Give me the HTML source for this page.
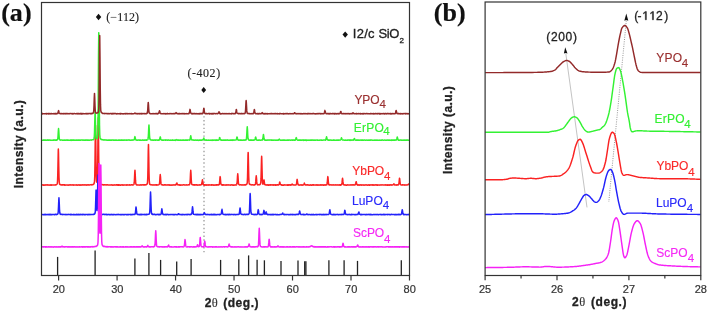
<!DOCTYPE html>
<html><head><meta charset="utf-8"><style>
html,body{margin:0;padding:0;background:#fff;width:708px;height:312px;overflow:hidden}
svg{display:block;will-change:transform;filter:blur(0.3px)}
</style></head><body>
<svg width="708" height="312" viewBox="0 0 708 312">
<rect width="708" height="312" fill="#fff"/>
<g stroke="#222" stroke-width="1.3">
<line x1="57.6" y1="256.9" x2="57.6" y2="275.5"/>
<line x1="95.1" y1="250.6" x2="95.1" y2="275.5"/>
<line x1="134.9" y1="258.6" x2="134.9" y2="275.5"/>
<line x1="148.9" y1="253" x2="148.9" y2="275.5"/>
<line x1="160.6" y1="259.9" x2="160.6" y2="275.5"/>
<line x1="176.7" y1="261.4" x2="176.7" y2="275.5"/>
<line x1="191.1" y1="258.9" x2="191.1" y2="275.5"/>
<line x1="220.6" y1="259.9" x2="220.6" y2="275.5"/>
<line x1="238.8" y1="259.3" x2="238.8" y2="275.5"/>
<line x1="248.6" y1="255.4" x2="248.6" y2="275.5"/>
<line x1="257.1" y1="259.8" x2="257.1" y2="275.5"/>
<line x1="264.4" y1="260.3" x2="264.4" y2="275.5"/>
<line x1="281" y1="260.9" x2="281" y2="275.5"/>
<line x1="298" y1="260.4" x2="298" y2="275.5"/>
<line x1="304.7" y1="261.3" x2="304.7" y2="275.5"/>
<line x1="305.9" y1="261.3" x2="305.9" y2="275.5"/>
<line x1="328.9" y1="260.3" x2="328.9" y2="275.5"/>
<line x1="344.1" y1="260.3" x2="344.1" y2="275.5"/>
<line x1="357.5" y1="260.9" x2="357.5" y2="275.5"/>
<line x1="401.3" y1="260.3" x2="401.3" y2="275.5"/>
</g>
<line x1="204" y1="108.45" x2="204" y2="253" stroke="#888" stroke-width="1.1" stroke-dasharray="1.4 2.45"/>
<path d="M41.5 184.9L41.75 185.01L42 184.94L42.25 185.04L42.5 185.04L42.75 184.82L43 184.8L43.25 185.13L43.5 184.9L43.75 184.89L44 185.19L44.25 184.98L44.5 185.13L44.75 184.98L45 185.05L45.25 184.85L45.5 185.04L45.75 185.14L46 185L46.25 185.09L46.5 185.06L46.75 184.81L47 185.09L47.25 185.02L47.5 184.91L47.75 184.8L48 185.13L48.25 184.97L48.5 185.07L48.75 185.13L49 185.07L49.25 185.15L49.5 184.94L49.75 185.1L50 184.96L50.25 185.15L50.5 185.13L50.75 184.81L51 184.83L51.25 184.86L51.5 185.15L51.75 184.94L52 185.01L52.25 184.88L52.5 184.96L52.75 184.9L53 184.89L53.25 184.97L53.5 184.97L53.75 185.09L54 184.99L54.25 185.08L54.5 185.04L54.75 185.08L55 184.93L55.25 184.7L55.5 184.95L55.75 184.96L56 184.88L56.25 184.68L56.5 184.65L56.75 184.31L57 184.32L57.25 183.66L57.5 181.59L57.75 175.36L58 163.27L58.25 150.91L58.35 149.04L58.5 152.61L58.75 165.95L59 177.12L59.25 182.2L59.5 183.91L59.75 184.4L60 184.27L60.25 184.63L60.5 184.49L60.75 184.82L61 184.71L61.25 184.97L61.5 185.04L61.75 184.87L62 185.08L62.25 184.82L62.5 184.74L62.75 184.96L63 184.74L63.25 184.81L63.5 184.9L63.75 184.99L64 184.81L64.25 184.77L64.5 185.11L64.75 184.89L65 185.15L65.25 185.13L65.5 184.92L65.75 184.96L66 184.98L66.25 185.03L66.5 185.01L66.75 185L67 185.03L67.25 185.16L67.5 184.98L67.75 184.95L68 185.07L68.25 184.88L68.5 184.91L68.75 185.18L69 184.99L69.25 185.01L69.5 184.79L69.75 184.95L70 185.02L70.25 184.8L70.5 185.04L70.75 185.04L71 184.81L71.25 185.04L71.5 184.98L71.75 185.06L72 184.93L72.25 185.07L72.5 185.09L72.75 184.8L73 184.82L73.25 185.06L73.5 185.18L73.75 184.89L74 184.98L74.25 185.03L74.5 184.92L74.75 184.94L75 184.92L75.25 184.95L75.5 185.04L75.75 184.92L76 184.95L76.25 185.11L76.5 184.81L76.75 185.03L77 185.09L77.25 184.92L77.5 184.89L77.75 185.12L78 184.9L78.25 184.87L78.5 184.97L78.75 185.07L79 184.83L79.25 184.92L79.5 184.92L79.75 185.12L80 184.96L80.25 185.13L80.5 184.86L80.75 184.92L81 185.05L81.25 185.14L81.5 184.96L81.75 184.87L82 184.82L82.25 184.99L82.5 184.85L82.75 185.09L83 185.11L83.25 184.84L83.5 184.88L83.75 185.09L84 185.02L84.25 185.09L84.5 184.9L84.75 184.81L85 184.88L85.25 185.08L85.5 184.86L85.75 184.89L86 184.92L86.25 184.92L86.5 184.91L86.75 185.11L87 184.8L87.25 184.74L87.5 185.11L87.75 185.08L88 185.12L88.25 184.89L88.5 185.1L88.75 185.08L89 184.79L89.25 184.99L89.5 185.02L89.75 184.95L90 184.88L90.25 184.78L90.5 184.78L90.75 184.72L91 184.64L91.25 184.83L91.5 184.69L91.75 184.87L92 184.53L92.25 184.84L92.5 184.7L92.75 184.73L93 184.64L93.25 184.54L93.5 184.27L93.75 183.85L94 183.85L94.25 183.08L94.5 181.6L94.75 176.37L95 161.83L95.25 138.66L95.5 125.18L95.75 138.61L96 161.47L96.25 175.74L96.5 181.12L96.75 182.16L97 182.22L97.25 180.65L97.5 174.79L97.75 158.9L98 133.31L98.25 117.87L98.5 133.42L98.75 159.31L99 175.45L99.25 181.46L99.5 182.84L99.75 183.69L100 184.11L100.25 184L100.5 184.24L100.75 184.36L101 184.54L101.25 184.57L101.5 184.64L101.75 184.81L102 184.53L102.25 184.58L102.5 184.64L102.75 184.66L103 184.65L103.25 185.03L103.5 184.99L103.75 184.7L104 184.88L104.25 184.81L104.5 184.82L104.75 184.84L105 184.97L105.25 184.95L105.5 184.86L105.75 184.8L106 184.86L106.25 184.78L106.5 184.96L106.75 185.03L107 184.89L107.25 184.78L107.5 184.82L107.75 184.9L108 184.99L108.25 185.07L108.5 184.91L108.75 185.08L109 185.01L109.25 184.93L109.5 184.91L109.75 184.96L110 185.05L110.25 184.94L110.5 185.05L110.75 184.95L111 184.87L111.25 184.99L111.5 185.05L111.75 184.8L112 184.94L112.25 184.95L112.5 185.14L112.75 185.16L113 184.94L113.25 185.15L113.5 185.1L113.75 184.89L114 184.97L114.25 184.84L114.5 185.11L114.75 185.05L115 185.14L115.25 185.12L115.5 185.07L115.75 185.09L116 185.03L116.25 184.84L116.5 185.04L116.75 184.8L117 184.86L117.25 185.11L117.5 184.82L117.75 184.84L118 184.84L118.25 185.15L118.5 184.87L118.75 184.81L119 185.13L119.25 184.85L119.5 185.13L119.75 185.07L120 185.13L120.25 185.18L120.5 185.03L120.75 185.12L121 184.81L121.25 185.1L121.5 185L121.75 185.08L122 184.84L122.25 185.1L122.5 185.17L122.75 184.82L123 184.93L123.25 185.02L123.5 185.13L123.75 184.89L124 184.87L124.25 184.89L124.5 185.04L124.75 185.1L125 184.95L125.25 184.94L125.5 184.95L125.75 184.93L126 184.96L126.25 184.82L126.5 184.99L126.75 185.18L127 184.95L127.25 185.09L127.5 184.85L127.75 185.06L128 185.09L128.25 185.06L128.5 184.99L128.75 184.98L129 185.04L129.25 185.14L129.5 184.84L129.75 184.81L130 185.07L130.25 185.14L130.5 184.97L130.75 184.94L131 185.05L131.25 184.83L131.5 184.85L131.75 184.81L132 184.96L132.25 184.83L132.5 184.78L132.75 184.94L133 185.01L133.25 184.7L133.5 184.79L133.75 184.52L134 184.22L134.25 182.46L134.5 178.26L134.75 172.56L134.95 170.21L135 170.56L135.25 174.85L135.5 180.18L135.75 183.26L136 184.27L136.25 184.74L136.5 184.59L136.75 185L137 184.83L137.25 184.91L137.5 184.88L137.75 185.04L138 185.04L138.25 184.95L138.5 184.92L138.75 185.03L139 185.08L139.25 184.9L139.5 185.04L139.75 185.13L140 184.94L140.25 184.84L140.5 184.84L140.75 185.04L141 185.02L141.25 185.13L141.5 185.09L141.75 184.84L142 184.82L142.25 184.85L142.5 184.81L142.75 185.02L143 185.07L143.25 185.08L143.5 184.82L143.75 185.06L144 184.83L144.25 184.86L144.5 184.97L144.75 184.7L145 184.68L145.25 184.95L145.5 184.71L145.75 184.7L146 184.73L146.25 184.71L146.5 184.35L146.75 184.34L147 184.17L147.25 183.77L147.5 182.34L147.75 177.9L148 166.71L148.25 150.66L148.45 144.42L148.5 144.69L148.75 156.81L149 172.05L149.25 180.18L149.5 183.35L149.75 184.16L150 184.13L150.25 184.65L150.5 184.53L150.75 184.77L151 184.83L151.25 184.69L151.5 184.87L151.75 184.89L152 184.98L152.25 184.78L152.5 184.99L152.75 185.08L153 184.97L153.25 184.93L153.5 184.77L153.75 184.92L154 184.87L154.25 185.02L154.5 185.01L154.75 184.97L155 184.81L155.25 185L155.5 185L155.75 184.82L156 185.1L156.25 185L156.5 184.79L156.75 185.11L157 184.79L157.25 184.86L157.5 185.01L157.75 184.95L158 184.91L158.25 184.93L158.5 184.82L158.75 184.71L159 184.57L159.25 184.26L159.5 183.57L159.75 181.02L160 176.84L160.25 174.5L160.5 176.77L160.75 180.83L161 183.44L161.25 184.58L161.5 184.52L161.75 184.8L162 184.74L162.25 184.99L162.5 184.84L162.75 184.85L163 184.89L163.25 184.96L163.5 185.06L163.75 184.9L164 185.1L164.25 184.81L164.5 184.88L164.75 184.81L165 184.82L165.25 185.09L165.5 185.07L165.75 184.86L166 184.86L166.25 184.95L166.5 185.08L166.75 185.11L167 185.09L167.25 185.03L167.5 184.85L167.75 184.95L168 184.87L168.25 185L168.5 185.02L168.75 184.87L169 184.89L169.25 185.11L169.5 184.8L169.75 185.11L170 185.15L170.25 185.17L170.5 184.95L170.75 185.01L171 185.03L171.25 185.05L171.5 185.18L171.75 185.07L172 184.91L172.25 185.14L172.5 184.99L172.75 185.03L173 185.08L173.25 184.79L173.5 185.1L173.75 185.05L174 184.98L174.25 184.99L174.5 184.96L174.75 184.85L175 184.98L175.25 184.77L175.5 184.94L175.75 184.94L176 184.66L176.25 184.18L176.5 183.49L176.75 182.96L177 183.16L177.25 184.27L177.5 184.73L177.75 184.7L178 184.88L178.25 184.85L178.5 184.8L178.75 184.99L179 185.15L179.25 184.91L179.5 185.13L179.75 185.06L180 184.84L180.25 185.13L180.5 185.03L180.75 185.16L181 185.07L181.25 185.08L181.5 184.93L181.75 185.11L182 185.16L182.25 185.13L182.5 184.96L182.75 185.09L183 184.98L183.25 184.83L183.5 184.8L183.75 184.82L184 184.86L184.25 184.85L184.5 184.98L184.75 185.06L185 184.99L185.25 184.95L185.5 185.04L185.75 184.89L186 184.96L186.25 185.07L186.5 184.92L186.75 184.83L187 185.11L187.25 185.03L187.5 184.89L187.75 184.88L188 184.93L188.25 184.94L188.5 184.76L188.75 184.65L189 184.68L189.25 184.84L189.5 184.46L189.75 184.22L190 182.8L190.25 179.27L190.5 173.61L190.75 170.37L191 173.61L191.25 179.2L191.5 182.77L191.75 184.1L192 184.6L192.25 184.55L192.5 184.61L192.75 184.82L193 184.84L193.25 184.98L193.5 184.73L193.75 184.89L194 184.9L194.25 184.76L194.5 185.14L194.75 184.84L195 184.8L195.25 184.95L195.5 184.83L195.75 185.02L196 184.91L196.25 184.82L196.5 184.8L196.75 185.07L197 184.89L197.25 185.09L197.5 184.96L197.75 185.15L198 184.9L198.25 184.88L198.5 184.88L198.75 185.1L199 185.02L199.25 184.91L199.5 184.8L199.75 185.03L200 185.14L200.25 184.99L200.5 184.74L200.75 184.73L201 184.73L201.25 184.71L201.5 184.49L201.75 183.92L202 182.74L202.25 180.86L202.45 179.78L202.5 180.15L202.75 181.46L203 183.49L203.25 184.58L203.5 184.95L203.75 184.68L204 184.83L204.25 184.97L204.5 185.12L204.75 184.79L205 184.88L205.25 185.11L205.5 184.82L205.75 184.93L206 184.91L206.25 185.05L206.5 185.15L206.75 184.85L207 185.08L207.25 185.08L207.5 185.12L207.75 185.01L208 185.16L208.25 184.94L208.5 184.96L208.75 184.88L209 185.1L209.25 184.98L209.5 184.9L209.75 184.86L210 185.08L210.25 185.03L210.5 185.08L210.75 184.95L211 184.99L211.25 184.85L211.5 185.08L211.75 184.8L212 184.98L212.25 185.1L212.5 185.06L212.75 184.83L213 184.89L213.25 185.13L213.5 185.05L213.75 185.14L214 185.14L214.25 184.97L214.5 185.15L214.75 185.08L215 184.92L215.25 184.93L215.5 184.81L215.75 184.94L216 185.16L216.25 184.82L216.5 185L216.75 184.81L217 184.79L217.25 185.02L217.5 184.84L217.75 184.76L218 184.78L218.25 184.96L218.5 184.9L218.75 184.63L219 184.61L219.25 184.54L219.5 183.05L219.75 180.51L220 177.25L220.15 176.62L220.25 176.91L220.5 179.93L220.75 182.77L221 184.08L221.25 184.54L221.5 184.64L221.75 184.99L222 184.74L222.25 184.73L222.5 185.12L222.75 184.82L223 185.11L223.25 184.79L223.5 184.95L223.75 184.86L224 185.1L224.25 185.02L224.5 185.03L224.75 185.08L225 185.13L225.25 184.92L225.5 185.02L225.75 184.96L226 184.83L226.25 185.12L226.5 185.02L226.75 185.11L227 184.87L227.25 185L227.5 184.97L227.75 185.08L228 184.82L228.25 184.93L228.5 184.98L228.75 184.82L229 185.01L229.25 185.08L229.5 184.96L229.75 185.05L230 185.03L230.25 184.87L230.5 184.93L230.75 185.18L231 184.92L231.25 184.96L231.5 184.81L231.75 184.87L232 184.84L232.25 185.15L232.5 185.06L232.75 185.12L233 185.16L233.25 185.01L233.5 185.14L233.75 184.97L234 184.92L234.25 185.13L234.5 185.11L234.75 185.12L235 184.92L235.25 185.02L235.5 184.86L235.75 185.07L236 185L236.25 184.7L236.5 184.86L236.75 184.28L237 183.24L237.25 180.78L237.5 176.28L237.75 173.81L238 176.42L238.25 180.51L238.5 183.5L238.75 184.31L239 184.65L239.25 184.72L239.5 184.92L239.75 184.96L240 184.8L240.25 184.74L240.5 184.83L240.75 184.88L241 184.76L241.25 184.79L241.5 185.04L241.75 185.01L242 185.12L242.25 185.12L242.5 185.08L242.75 184.88L243 184.79L243.25 184.85L243.5 184.9L243.75 184.92L244 184.92L244.25 184.84L244.5 185.02L244.75 184.78L245 184.83L245.25 184.97L245.5 184.91L245.75 184.66L246 184.58L246.25 184.73L246.5 184.29L246.75 184.15L247 183.9L247.25 182.52L247.5 177.78L247.75 167.45L248 155.18L248.15 152.41L248.25 153.67L248.5 165.21L248.75 176.45L249 182.13L249.25 183.54L249.5 184.11L249.75 184.25L250 184.55L250.25 184.6L250.5 184.54L250.75 184.78L251 184.63L251.25 184.75L251.5 184.74L251.75 184.98L252 184.83L252.25 184.78L252.5 184.7L252.75 184.85L253 184.93L253.25 184.95L253.5 185.04L253.75 184.99L254 184.76L254.25 184.69L254.5 184.92L254.75 184.89L255 184.7L255.25 184.6L255.5 183.69L255.75 181.42L256 177.92L256.25 175.81L256.5 178.1L256.75 181.65L257 183.81L257.25 184.43L257.5 184.73L257.75 184.91L258 184.89L258.25 184.82L258.5 184.75L258.75 184.78L259 184.62L259.25 184.6L259.5 184.75L259.75 184.81L260 184.53L260.25 184.31L260.5 183.93L260.75 182.77L261 178.9L261.25 169.77L261.5 159.21L261.65 156.26L261.75 157.53L262 167.5L262.25 177.33L262.5 182.38L262.75 183.88L263 184.21L263.25 183.72L263.5 182.24L263.75 180.64L263.95 179.92L264 179.96L264.25 181.36L264.5 183.36L264.75 184.47L265 184.51L265.25 184.85L265.5 184.78L265.75 184.86L266 185.04L266.25 185.08L266.5 184.97L266.75 184.8L267 185.1L267.25 184.81L267.5 184.9L267.75 185.08L268 184.88L268.25 184.86L268.5 185.14L268.75 185.14L269 184.89L269.25 184.92L269.5 184.88L269.75 184.82L270 184.87L270.25 185.17L270.5 184.81L270.75 184.87L271 184.86L271.25 184.81L271.5 184.99L271.75 185.08L272 185.12L272.25 185.03L272.5 185.11L272.75 184.79L273 184.9L273.25 185.17L273.5 184.81L273.75 184.89L274 184.98L274.25 184.89L274.5 185L274.75 184.8L275 184.88L275.25 185.17L275.5 184.84L275.75 185.15L276 184.85L276.25 185.18L276.5 185.05L276.75 185.04L277 184.83L277.25 184.8L277.5 185.07L277.75 184.83L278 184.83L278.25 185.07L278.5 185.07L278.75 184.67L279 184.77L279.25 183.9L279.5 182.72L279.75 181.95L280 182.73L280.25 184.08L280.5 184.5L280.75 184.7L281 184.78L281.25 184.8L281.5 184.9L281.75 185.13L282 184.8L282.25 184.86L282.5 185.16L282.75 185.18L283 185.18L283.25 184.89L283.5 184.93L283.75 185.17L284 184.98L284.25 185.07L284.5 184.92L284.75 184.8L285 184.93L285.25 185.09L285.5 185.11L285.75 185.02L286 184.98L286.25 185.01L286.5 184.97L286.75 185.01L287 185.13L287.25 184.87L287.5 185.03L287.75 185.17L288 185.13L288.25 184.86L288.5 185.18L288.75 185.13L289 184.86L289.25 184.9L289.5 184.87L289.75 184.81L290 185.18L290.25 184.95L290.5 185.13L290.75 184.82L291 184.76L291.25 185.06L291.5 184.9L291.75 184.66L292 184.17L292.15 184.01L292.25 184.15L292.5 184.22L292.75 184.74L293 184.87L293.25 184.8L293.5 185L293.75 184.89L294 184.96L294.25 184.91L294.5 184.88L294.75 184.89L295 184.98L295.25 185.12L295.5 185.08L295.75 185.02L296 184.94L296.25 184.49L296.5 183.98L296.75 181.93L297 179.77L297.15 179.4L297.25 179.73L297.5 181.52L297.75 183.58L298 184.39L298.25 184.97L298.5 184.85L298.75 184.9L299 184.94L299.25 185.09L299.5 185.15L299.75 184.97L300 184.94L300.25 185.02L300.5 184.8L300.75 184.94L301 185.12L301.25 185.09L301.5 184.8L301.75 185.12L302 184.93L302.25 185.17L302.5 184.92L302.75 184.85L303 184.97L303.25 185.08L303.5 184.8L303.75 184.67L304 183.98L304.25 183.22L304.35 183.12L304.5 183.37L304.75 184L305 184.56L305.25 184.92L305.5 185.09L305.75 184.99L306 184.83L306.25 184.86L306.5 184.93L306.75 185.03L307 184.84L307.25 184.82L307.5 184.92L307.75 184.9L308 184.8L308.25 185.01L308.5 185.16L308.75 185.01L309 185.09L309.25 185.13L309.5 185.13L309.75 185.16L310 184.97L310.25 185.07L310.5 184.84L310.75 185.15L311 184.95L311.25 184.99L311.5 185.15L311.75 184.91L312 184.87L312.25 185.13L312.5 185.04L312.75 184.83L313 184.81L313.25 184.94L313.5 184.8L313.75 185.13L314 184.87L314.25 184.91L314.5 184.95L314.75 185L315 184.97L315.25 185.05L315.5 185.06L315.75 184.97L316 184.84L316.25 185.19L316.5 185.07L316.75 184.83L317 184.97L317.25 185.1L317.5 185.19L317.75 184.82L318 184.8L318.25 184.99L318.5 184.96L318.75 185.15L319 185.13L319.25 184.93L319.5 184.96L319.75 185.03L320 185.15L320.25 184.87L320.5 184.95L320.75 184.83L321 185.05L321.25 184.8L321.5 185.16L321.75 185L322 185.02L322.25 184.82L322.5 184.88L322.75 184.97L323 185.13L323.25 185L323.5 184.89L323.75 185.17L324 185.04L324.25 184.98L324.5 184.85L324.75 184.88L325 185.12L325.25 184.8L325.5 184.95L325.75 184.97L326 184.84L326.25 184.97L326.5 184.97L326.75 184.82L327 184.32L327.25 182.69L327.5 179.75L327.75 177.03L327.85 176.63L328 177.34L328.25 180.74L328.5 183.09L328.75 184.5L329 184.89L329.25 184.67L329.5 185.04L329.75 184.86L330 184.81L330.25 184.81L330.5 184.76L330.75 184.95L331 184.92L331.25 185.11L331.5 185.1L331.75 184.8L332 184.94L332.25 184.93L332.5 184.85L332.75 184.88L333 184.89L333.25 185.06L333.5 184.92L333.75 184.83L334 184.87L334.25 184.96L334.5 185.01L334.75 184.89L335 185.07L335.25 184.87L335.5 185.06L335.75 185.03L336 184.86L336.25 185.09L336.5 184.94L336.75 185L337 185.03L337.25 185.04L337.5 184.96L337.75 184.81L338 185.1L338.25 185.12L338.5 184.98L338.75 185.01L339 184.88L339.25 185.13L339.5 185.04L339.75 184.85L340 185.08L340.25 185.14L340.5 184.87L340.75 185.11L341 184.88L341.25 184.7L341.5 184.79L341.75 184.17L342 182.94L342.25 180.4L342.5 178.22L342.55 178.31L342.75 179.48L343 181.94L343.25 183.84L343.5 184.72L343.75 184.78L344 184.86L344.25 184.93L344.5 185.05L344.75 184.82L345 184.79L345.25 185.06L345.5 184.99L345.75 184.89L346 185.13L346.25 185.13L346.5 185L346.75 185.18L347 185.12L347.25 185.08L347.5 184.9L347.75 184.79L348 185.06L348.25 185.08L348.5 184.93L348.75 184.98L349 185.02L349.25 184.89L349.5 185.07L349.75 185.02L350 184.95L350.25 184.83L350.5 185.01L350.75 184.92L351 185.08L351.25 184.86L351.5 184.95L351.75 184.87L352 184.95L352.25 185.02L352.5 184.83L352.75 184.81L353 184.98L353.25 184.86L353.5 184.98L353.75 184.84L354 184.81L354.25 184.97L354.5 185.12L354.75 185.08L355 184.89L355.25 184.71L355.5 184.11L355.75 183.16L356 181.93L356.15 181.88L356.25 181.69L356.5 183.16L356.75 184.12L357 184.67L357.25 184.78L357.5 185.11L357.75 184.82L358 184.99L358.25 184.97L358.5 184.85L358.75 184.87L359 185.18L359.25 185.1L359.5 185.08L359.75 185.15L360 184.83L360.25 185.07L360.5 185.09L360.75 184.88L361 184.98L361.25 185.18L361.5 184.93L361.75 185.1L362 184.86L362.25 185.06L362.5 184.9L362.75 185L363 184.95L363.25 185.15L363.5 185.1L363.75 185L364 185.07L364.25 184.97L364.5 185.12L364.75 184.9L365 185.02L365.25 185.03L365.5 184.95L365.75 184.82L366 184.87L366.25 185.05L366.5 184.88L366.75 185.1L367 185L367.25 185.18L367.5 185.14L367.75 185.09L368 184.95L368.25 184.82L368.5 185.02L368.75 185.1L369 185.17L369.25 184.88L369.5 184.86L369.75 185.19L370 185.1L370.25 184.99L370.5 185.09L370.75 184.86L371 185.02L371.25 185.07L371.5 185.04L371.75 184.86L372 184.85L372.25 185.05L372.5 185.15L372.75 184.85L373 184.8L373.25 184.83L373.5 185.11L373.75 184.96L374 184.98L374.25 185.2L374.5 185.04L374.75 184.91L375 185.08L375.25 184.8L375.5 184.91L375.75 185.08L376 184.87L376.25 184.81L376.5 185.01L376.75 184.93L377 185.19L377.25 184.84L377.5 185.12L377.75 184.96L378 185.12L378.25 184.98L378.5 185.07L378.75 184.93L379 184.89L379.25 184.98L379.5 185.12L379.75 184.94L380 184.89L380.25 184.97L380.5 184.84L380.75 184.93L381 185.03L381.25 185.02L381.5 185.04L381.75 184.92L382 184.81L382.25 184.81L382.5 184.94L382.75 184.88L383 185.03L383.25 184.9L383.5 185.1L383.75 185.04L384 185.06L384.25 185.09L384.5 185.01L384.75 184.97L385 184.92L385.25 184.82L385.5 185.12L385.75 185L386 184.84L386.25 185.17L386.5 185.03L386.75 185.05L387 184.97L387.25 184.85L387.5 185.2L387.75 184.86L388 184.94L388.25 185.2L388.5 184.84L388.75 185L389 184.99L389.25 184.89L389.5 185.16L389.75 184.96L390 184.8L390.25 184.98L390.5 184.79L390.75 185.08L391 185.14L391.25 185.15L391.5 184.81L391.75 185.06L392 184.9L392.25 184.97L392.5 184.89L392.75 184.88L393 184.75L393.25 184.78L393.5 184.22L393.75 184.23L393.85 183.82L394 184.28L394.25 184.34L394.5 184.61L394.75 185.01L395 184.96L395.25 185.07L395.5 184.97L395.75 185.02L396 184.8L396.25 185.04L396.5 184.97L396.75 185.14L397 184.75L397.25 184.77L397.5 185L397.75 185.08L398 184.85L398.25 184.92L398.5 184.72L398.75 184.19L399 182.84L399.25 180.4L399.5 178.18L399.55 178.22L399.75 179.44L400 181.86L400.25 183.81L400.5 184.48L400.75 184.74L401 184.93L401.25 185L401.5 185.11L401.75 184.93L402 184.83L402.25 184.89L402.5 184.79L402.75 184.87L403 185.01L403.25 185.02L403.5 184.88L403.75 184.85L404 184.82L404.25 184.86L404.5 184.99L404.75 184.89L405 185.14L405.25 185.01L405.5 184.92L405.75 184.96L406 184.8L406.25 185.08L406.5 185.08L406.75 184.93L407 185.07L407.25 184.88L407.5 184.84L407.75 184.77L408 184.56L408.25 184.35L408.5 184.07L408.55 184.09L408.75 184L409 184.65L409.25 184.81L409.5 184.89" fill="none" stroke="#fa2222" stroke-width="1.5" stroke-linejoin="round"/>
<path d="M41.5 214.55L41.75 214.52L42 214.43L42.25 214.51L42.5 214.61L42.75 214.63L43 214.71L43.25 214.42L43.5 214.7L43.75 214.67L44 214.63L44.25 214.74L44.5 214.4L44.75 214.66L45 214.71L45.25 214.39L45.5 214.58L45.75 214.72L46 214.46L46.25 214.69L46.5 214.71L46.75 214.52L47 214.4L47.25 214.43L47.5 214.68L47.75 214.51L48 214.47L48.25 214.52L48.5 214.71L48.75 214.44L49 214.35L49.25 214.72L49.5 214.47L49.75 214.5L50 214.73L50.25 214.45L50.5 214.37L50.75 214.69L51 214.44L51.25 214.43L51.5 214.71L51.75 214.43L52 214.7L52.25 214.47L52.5 214.45L52.75 214.42L53 214.55L53.25 214.55L53.5 214.48L53.75 214.53L54 214.44L54.25 214.65L54.5 214.69L54.75 214.61L55 214.63L55.25 214.33L55.5 214.39L55.75 214.36L56 214.33L56.25 214.64L56.5 214.59L56.75 214.57L57 214.39L57.25 214.16L57.5 214.2L57.75 213.87L58 213.67L58.25 211.53L58.5 206.89L58.75 200.67L58.95 197.78L59 198.25L59.25 202.95L59.5 209.28L59.75 212.48L60 213.97L60.25 214.1L60.5 214.2L60.75 214.4L61 214.42L61.25 214.32L61.5 214.29L61.75 214.49L62 214.28L62.25 214.63L62.5 214.43L62.75 214.37L63 214.44L63.25 214.36L63.5 214.44L63.75 214.54L64 214.48L64.25 214.46L64.5 214.44L64.75 214.52L65 214.64L65.25 214.51L65.5 214.64L65.75 214.53L66 214.38L66.25 214.4L66.5 214.68L66.75 214.53L67 214.49L67.25 214.55L67.5 214.68L67.75 214.49L68 214.49L68.25 214.49L68.5 214.35L68.75 214.56L69 214.53L69.25 214.54L69.5 214.52L69.75 214.53L70 214.63L70.25 214.42L70.5 214.74L70.75 214.39L71 214.69L71.25 214.42L71.5 214.66L71.75 214.45L72 214.38L72.25 214.56L72.5 214.68L72.75 214.68L73 214.7L73.25 214.74L73.5 214.37L73.75 214.5L74 214.39L74.25 214.65L74.5 214.53L74.75 214.64L75 214.67L75.25 214.75L75.5 214.62L75.75 214.7L76 214.57L76.25 214.38L76.5 214.71L76.75 214.39L77 214.38L77.25 214.68L77.5 214.46L77.75 214.61L78 214.36L78.25 214.43L78.5 214.64L78.75 214.37L79 214.55L79.25 214.72L79.5 214.43L79.75 214.63L80 214.64L80.25 214.59L80.5 214.65L80.75 214.62L81 214.35L81.25 214.42L81.5 214.55L81.75 214.73L82 214.42L82.25 214.57L82.5 214.39L82.75 214.68L83 214.51L83.25 214.54L83.5 214.6L83.75 214.39L84 214.63L84.25 214.65L84.5 214.68L84.75 214.44L85 214.42L85.25 214.4L85.5 214.69L85.75 214.5L86 214.48L86.25 214.53L86.5 214.6L86.75 214.45L87 214.46L87.25 214.63L87.5 214.63L87.75 214.44L88 214.35L88.25 214.69L88.5 214.6L88.75 214.55L89 214.47L89.25 214.69L89.5 214.47L89.75 214.39L90 214.33L90.25 214.43L90.5 214.53L90.75 214.43L91 214.65L91.25 214.53L91.5 214.44L91.75 214.51L92 214.48L92.25 214.47L92.5 214.41L92.75 214.4L93 214.37L93.25 214.48L93.5 214.19L93.75 214.38L94 214.13L94.25 214.27L94.5 213.85L94.75 213.84L95 213.42L95.25 212.17L95.5 207.79L95.75 199.4L96 190.92L96.1 190.03L96.25 192.16L96.5 200.84L96.75 208.15L97 210.55L97.25 208.35L97.5 198.94L97.75 183.92L98 174.92L98.25 184.11L98.5 199.41L98.75 208.9L99 212.18L99.25 213.36L99.5 213.74L99.75 213.75L100 214.18L100.25 214.09L100.5 214.14L100.75 214.33L101 214.35L101.25 214.35L101.5 214.52L101.75 214.4L102 214.35L102.25 214.25L102.5 214.46L102.75 214.4L103 214.47L103.25 214.41L103.5 214.28L103.75 214.29L104 214.35L104.25 214.33L104.5 214.63L104.75 214.53L105 214.4L105.25 214.59L105.5 214.56L105.75 214.33L106 214.61L106.25 214.41L106.5 214.72L106.75 214.37L107 214.43L107.25 214.42L107.5 214.67L107.75 214.65L108 214.56L108.25 214.39L108.5 214.5L108.75 214.61L109 214.35L109.25 214.7L109.5 214.67L109.75 214.7L110 214.61L110.25 214.58L110.5 214.72L110.75 214.44L111 214.46L111.25 214.38L111.5 214.41L111.75 214.66L112 214.38L112.25 214.64L112.5 214.5L112.75 214.69L113 214.65L113.25 214.62L113.5 214.68L113.75 214.36L114 214.45L114.25 214.49L114.5 214.52L114.75 214.61L115 214.7L115.25 214.65L115.5 214.72L115.75 214.63L116 214.49L116.25 214.55L116.5 214.65L116.75 214.68L117 214.5L117.25 214.49L117.5 214.6L117.75 214.44L118 214.7L118.25 214.35L118.5 214.61L118.75 214.54L119 214.43L119.25 214.58L119.5 214.54L119.75 214.73L120 214.7L120.25 214.58L120.5 214.7L120.75 214.7L121 214.41L121.25 214.68L121.5 214.68L121.75 214.74L122 214.65L122.25 214.51L122.5 214.43L122.75 214.61L123 214.43L123.25 214.65L123.5 214.58L123.75 214.68L124 214.49L124.25 214.47L124.5 214.71L124.75 214.61L125 214.5L125.25 214.57L125.5 214.52L125.75 214.6L126 214.55L126.25 214.46L126.5 214.74L126.75 214.7L127 214.65L127.25 214.46L127.5 214.42L127.75 214.64L128 214.67L128.25 214.61L128.5 214.43L128.75 214.63L129 214.55L129.25 214.49L129.5 214.58L129.75 214.52L130 214.6L130.25 214.64L130.5 214.73L130.75 214.38L131 214.57L131.25 214.71L131.5 214.6L131.75 214.56L132 214.67L132.25 214.34L132.5 214.64L132.75 214.57L133 214.55L133.25 214.43L133.5 214.55L133.75 214.34L134 214.48L134.25 214.35L134.5 214.59L134.75 214.48L135 214.2L135.25 213.78L135.5 212.08L135.75 209.33L136 206.95L136.05 207.15L136.25 208.28L136.5 211.22L136.75 213.05L137 214.2L137.25 214.12L137.5 214.42L137.75 214.43L138 214.28L138.25 214.45L138.5 214.64L138.75 214.55L139 214.43L139.25 214.64L139.5 214.46L139.75 214.68L140 214.48L140.25 214.35L140.5 214.71L140.75 214.35L141 214.43L141.25 214.63L141.5 214.37L141.75 214.54L142 214.67L142.25 214.56L142.5 214.47L142.75 214.63L143 214.66L143.25 214.56L143.5 214.57L143.75 214.45L144 214.48L144.25 214.72L144.5 214.71L144.75 214.32L145 214.39L145.25 214.4L145.5 214.62L145.75 214.38L146 214.37L146.25 214.6L146.5 214.35L146.75 214.67L147 214.45L147.25 214.62L147.5 214.57L147.75 214.31L148 214.51L148.25 214.33L148.5 214.21L148.75 214.08L149 214.24L149.25 214.02L149.5 213.47L149.75 212.11L150 207.23L150.25 198.99L150.5 192.18L150.55 192.04L150.75 195.74L151 204.34L151.25 210.47L151.5 213.04L151.75 213.93L152 214.02L152.25 214.38L152.5 214.12L152.75 214.5L153 214.44L153.25 214.54L153.5 214.38L153.75 214.28L154 214.33L154.25 214.53L154.5 214.29L154.75 214.33L155 214.61L155.25 214.65L155.5 214.65L155.75 214.64L156 214.53L156.25 214.66L156.5 214.59L156.75 214.54L157 214.49L157.25 214.33L157.5 214.35L157.75 214.42L158 214.5L158.25 214.36L158.5 214.7L158.75 214.54L159 214.6L159.25 214.66L159.5 214.39L159.75 214.64L160 214.65L160.25 214.36L160.5 214.26L160.75 214.45L161 214.18L161.25 213.2L161.5 211.12L161.75 209.28L161.85 208.85L162 209.4L162.25 211.57L162.5 213.44L162.75 213.96L163 214.53L163.25 214.24L163.5 214.65L163.75 214.37L164 214.62L164.25 214.63L164.5 214.69L164.75 214.5L165 214.6L165.25 214.44L165.5 214.66L165.75 214.37L166 214.69L166.25 214.57L166.5 214.36L166.75 214.71L167 214.46L167.25 214.37L167.5 214.45L167.75 214.35L168 214.46L168.25 214.63L168.5 214.74L168.75 214.6L169 214.69L169.25 214.67L169.5 214.63L169.75 214.5L170 214.45L170.25 214.41L170.5 214.57L170.75 214.43L171 214.64L171.25 214.47L171.5 214.58L171.75 214.57L172 214.6L172.25 214.41L172.5 214.45L172.75 214.62L173 214.43L173.25 214.62L173.5 214.73L173.75 214.5L174 214.73L174.25 214.59L174.5 214.72L174.75 214.56L175 214.65L175.25 214.62L175.5 214.42L175.75 214.55L176 214.58L176.25 214.53L176.5 214.61L176.75 214.7L177 214.66L177.25 214.66L177.5 214.38L177.75 214.59L178 214.49L178.25 214.44L178.5 213.77L178.75 213.67L179 214.16L179.25 214.21L179.5 214.52L179.75 214.55L180 214.49L180.25 214.51L180.5 214.56L180.75 214.73L181 214.55L181.25 214.66L181.5 214.46L181.75 214.63L182 214.59L182.25 214.64L182.5 214.7L182.75 214.38L183 214.73L183.25 214.59L183.5 214.45L183.75 214.53L184 214.38L184.25 214.44L184.5 214.68L184.75 214.63L185 214.69L185.25 214.41L185.5 214.39L185.75 214.49L186 214.54L186.25 214.63L186.5 214.46L186.75 214.63L187 214.57L187.25 214.45L187.5 214.65L187.75 214.36L188 214.57L188.25 214.41L188.5 214.35L188.75 214.52L189 214.53L189.25 214.56L189.5 214.46L189.75 214.68L190 214.61L190.25 214.35L190.5 214.27L190.75 214.63L191 214.38L191.25 214.2L191.5 214.08L191.75 213.74L192 211.94L192.25 209.14L192.5 206.96L192.55 206.74L192.75 208.07L193 211.2L193.25 213.31L193.5 214.12L193.75 214.37L194 214.32L194.25 214.49L194.5 214.52L194.75 214.52L195 214.49L195.25 214.6L195.5 214.39L195.75 214.6L196 214.71L196.25 214.34L196.5 214.43L196.75 214.72L197 214.36L197.25 214.66L197.5 214.57L197.75 214.36L198 214.59L198.25 214.34L198.5 214.68L198.75 214.46L199 214.71L199.25 214.7L199.5 214.39L199.75 214.5L200 214.4L200.25 214.64L200.5 214.38L200.75 214.37L201 214.38L201.25 214.68L201.5 214.43L201.75 214.46L202 214.51L202.25 214.55L202.5 214.49L202.75 214.7L203 214.44L203.25 214.47L203.5 214.52L203.75 213.96L204 213.29L204.25 212.92L204.35 212.63L204.5 213.03L204.75 213.7L205 214.1L205.25 214.34L205.5 214.33L205.75 214.66L206 214.5L206.25 214.46L206.5 214.4L206.75 214.42L207 214.69L207.25 214.39L207.5 214.56L207.75 214.59L208 214.55L208.25 214.54L208.5 214.5L208.75 214.42L209 214.67L209.25 214.7L209.5 214.57L209.75 214.45L210 214.71L210.25 214.43L210.5 214.41L210.75 214.6L211 214.68L211.25 214.58L211.5 214.39L211.75 214.74L212 214.41L212.25 214.48L212.5 214.74L212.75 214.66L213 214.65L213.25 214.38L213.5 214.69L213.75 214.51L214 214.35L214.25 214.66L214.5 214.72L214.75 214.36L215 214.53L215.25 214.7L215.5 214.48L215.75 214.46L216 214.65L216.25 214.52L216.5 214.74L216.75 214.68L217 214.68L217.25 214.62L217.5 214.42L217.75 214.61L218 214.57L218.25 214.53L218.5 214.56L218.75 214.45L219 214.4L219.25 214.68L219.5 214.46L219.75 214.35L220 214.68L220.25 214.48L220.5 214.52L220.75 214.33L221 214.08L221.25 213.56L221.5 212.3L221.75 210.03L221.95 209.47L222 209.28L222.25 211.08L222.5 212.74L222.75 213.93L223 214.17L223.25 214.28L223.5 214.47L223.75 214.43L224 214.51L224.25 214.39L224.5 214.44L224.75 214.45L225 214.68L225.25 214.36L225.5 214.5L225.75 214.67L226 214.56L226.25 214.44L226.5 214.74L226.75 214.38L227 214.39L227.25 214.35L227.5 214.52L227.75 214.68L228 214.45L228.25 214.46L228.5 214.66L228.75 214.37L229 214.35L229.25 214.61L229.5 214.38L229.75 214.55L230 214.4L230.25 214.58L230.5 214.68L230.75 214.52L231 214.45L231.25 214.59L231.5 214.62L231.75 214.37L232 214.44L232.25 214.49L232.5 214.55L232.75 214.45L233 214.61L233.25 214.44L233.5 214.7L233.75 214.48L234 214.43L234.25 214.37L234.5 214.39L234.75 214.42L235 214.69L235.25 214.5L235.5 214.51L235.75 214.71L236 214.71L236.25 214.63L236.5 214.42L236.75 214.45L237 214.51L237.25 214.41L237.5 214.44L237.75 214.37L238 214.37L238.25 214.56L238.5 214.47L238.75 214.36L239 214.24L239.25 213.83L239.5 212.49L239.75 209.76L240 208.11L240.05 207.89L240.25 208.87L240.5 211.7L240.75 213.48L241 214.06L241.25 214.15L241.5 214.38L241.75 214.42L242 214.41L242.25 214.32L242.5 214.52L242.75 214.39L243 214.6L243.25 214.51L243.5 214.42L243.75 214.64L244 214.49L244.25 214.34L244.5 214.42L244.75 214.33L245 214.47L245.25 214.66L245.5 214.67L245.75 214.55L246 214.35L246.25 214.38L246.5 214.35L246.75 214.41L247 214.51L247.25 214.24L247.5 214.41L247.75 214.36L248 214.41L248.25 214.43L248.5 214.18L248.75 214.14L249 213.75L249.25 212.93L249.5 210.05L249.75 203.19L250 195.44L250.15 193.5L250.25 194.26L250.5 201.59L250.75 209.11L251 212.53L251.25 213.61L251.5 213.98L251.75 214.21L252 214.24L252.25 214.28L252.5 214.31L252.75 214.29L253 214.43L253.25 214.48L253.5 214.29L253.75 214.5L254 214.4L254.25 214.67L254.5 214.66L254.75 214.34L255 214.57L255.25 214.42L255.5 214.33L255.75 214.63L256 214.64L256.25 214.58L256.5 214.51L256.75 214.63L257 214.42L257.25 214.34L257.5 213.9L257.75 212.82L258 210.95L258.25 209.62L258.5 210.69L258.75 212.69L259 213.88L259.25 214.22L259.5 214.54L259.75 214.58L260 214.54L260.25 214.49L260.5 214.56L260.75 214.37L261 214.61L261.25 214.34L261.5 214.65L261.75 214.53L262 214.39L262.25 214.34L262.5 214.48L262.75 214.39L263 214.35L263.25 213.64L263.5 212.8L263.75 211.01L263.95 210.38L264 210.54L264.25 211.7L264.5 213.16L264.75 213.93L265 214.26L265.25 214.06L265.5 213.83L265.75 213.29L266 212.07L266.15 211.84L266.25 212.25L266.5 212.93L266.75 213.87L267 214.33L267.25 214.52L267.5 214.4L267.75 214.6L268 214.31L268.25 214.65L268.5 214.44L268.75 214.57L269 214.45L269.25 214.63L269.5 214.48L269.75 214.58L270 214.46L270.25 214.67L270.5 214.65L270.75 214.42L271 214.64L271.25 214.72L271.5 214.44L271.75 214.42L272 214.71L272.25 214.73L272.5 214.4L272.75 214.65L273 214.72L273.25 214.45L273.5 214.66L273.75 214.46L274 214.66L274.25 214.55L274.5 214.53L274.75 214.4L275 214.61L275.25 214.63L275.5 214.46L275.75 214.36L276 214.38L276.25 214.45L276.5 214.74L276.75 214.64L277 214.7L277.25 214.65L277.5 214.4L277.75 214.5L278 214.73L278.25 214.69L278.5 214.74L278.75 214.67L279 214.63L279.25 214.65L279.5 214.71L279.75 214.51L280 214.35L280.25 214.46L280.5 214.34L280.75 214.44L281 214.56L281.25 214.43L281.5 214.4L281.75 214.28L282 214.18L282.25 213.79L282.5 213.27L282.65 213.28L282.75 212.99L283 213.57L283.25 214L283.5 214.59L283.75 214.55L284 214.58L284.25 214.65L284.5 214.33L284.75 214.7L285 214.47L285.25 214.59L285.5 214.5L285.75 214.64L286 214.46L286.25 214.46L286.5 214.44L286.75 214.64L287 214.53L287.25 214.41L287.5 214.49L287.75 214.57L288 214.5L288.25 214.58L288.5 214.68L288.75 214.6L289 214.67L289.25 214.47L289.5 214.69L289.75 214.72L290 214.56L290.25 214.36L290.5 214.38L290.75 214.65L291 214.69L291.25 214.64L291.5 214.55L291.75 214.56L292 214.39L292.25 214.59L292.5 214.75L292.75 214.43L293 214.59L293.25 214.69L293.5 214.61L293.75 214.48L294 214.44L294.25 214.64L294.5 214.71L294.75 214.69L295 214.5L295.25 214.64L295.5 214.66L295.75 214.49L296 214.64L296.25 214.49L296.5 214.41L296.75 214.33L297 214.62L297.25 214.62L297.5 214.33L297.75 214.33L298 214.42L298.25 214.36L298.5 214.52L298.75 214.15L299 213.79L299.25 212.63L299.5 211.18L299.65 211.04L299.75 211.03L300 212.33L300.25 213.65L300.5 214.17L300.75 214.28L301 214.65L301.25 214.59L301.5 214.52L301.75 214.51L302 214.57L302.25 214.44L302.5 214.36L302.75 214.55L303 214.69L303.25 214.37L303.5 214.73L303.75 214.49L304 214.74L304.25 214.65L304.5 214.45L304.75 214.42L305 214.69L305.25 214.72L305.5 214.64L305.75 214.51L306 214.36L306.25 214.21L306.5 214.04L306.55 214.04L306.75 213.92L307 214.38L307.25 214.62L307.5 214.54L307.75 214.33L308 214.41L308.25 214.6L308.5 214.51L308.75 214.71L309 214.6L309.25 214.62L309.5 214.41L309.75 214.56L310 214.63L310.25 214.71L310.5 214.71L310.75 214.45L311 214.55L311.25 214.74L311.5 214.38L311.75 214.38L312 214.42L312.25 214.64L312.5 214.48L312.75 214.63L313 214.68L313.25 214.67L313.5 214.36L313.75 214.62L314 214.67L314.25 214.63L314.5 214.69L314.75 214.68L315 214.59L315.25 214.69L315.5 214.57L315.75 214.39L316 214.46L316.25 214.72L316.5 214.48L316.75 214.54L317 214.7L317.25 214.62L317.5 214.66L317.75 214.54L318 214.55L318.25 214.38L318.5 214.43L318.75 214.41L319 214.56L319.25 214.56L319.5 214.38L319.75 214.6L320 214.39L320.25 214.5L320.5 214.36L320.75 214.54L321 214.41L321.25 214.72L321.5 214.49L321.75 214.68L322 214.52L322.25 214.48L322.5 214.68L322.75 214.46L323 214.55L323.25 214.6L323.5 214.74L323.75 214.63L324 214.36L324.25 214.53L324.5 214.72L324.75 214.68L325 214.49L325.25 214.39L325.5 214.45L325.75 214.64L326 214.41L326.25 214.69L326.5 214.44L326.75 214.6L327 214.6L327.25 214.42L327.5 214.52L327.75 214.55L328 214.4L328.25 214.48L328.5 214.49L328.75 214.55L329 214.01L329.25 213.14L329.5 211.59L329.75 209.94L329.85 209.7L330 210.31L330.25 211.86L330.5 213.5L330.75 214.17L331 214.27L331.25 214.43L331.5 214.46L331.75 214.44L332 214.61L332.25 214.71L332.5 214.71L332.75 214.41L333 214.48L333.25 214.71L333.5 214.37L333.75 214.37L334 214.36L334.25 214.72L334.5 214.54L334.75 214.51L335 214.38L335.25 214.69L335.5 214.74L335.75 214.62L336 214.71L336.25 214.57L336.5 214.47L336.75 214.41L337 214.46L337.25 214.4L337.5 214.49L337.75 214.36L338 214.36L338.25 214.7L338.5 214.68L338.75 214.67L339 214.48L339.25 214.52L339.5 214.56L339.75 214.66L340 214.46L340.25 214.54L340.5 214.56L340.75 214.67L341 214.48L341.25 214.34L341.5 214.49L341.75 214.68L342 214.4L342.25 214.57L342.5 214.37L342.75 214.41L343 214.54L343.25 214.32L343.5 214.43L343.75 214.42L344 214.1L344.25 213.5L344.5 212.03L344.75 210.3L344.85 210.3L345 210.7L345.25 212.28L345.5 213.64L345.75 214.25L346 214.5L346.25 214.53L346.5 214.39L346.75 214.56L347 214.59L347.25 214.5L347.5 214.68L347.75 214.45L348 214.55L348.25 214.56L348.5 214.58L348.75 214.41L349 214.61L349.25 214.39L349.5 214.55L349.75 214.52L350 214.62L350.25 214.69L350.5 214.74L350.75 214.43L351 214.71L351.25 214.53L351.5 214.55L351.75 214.36L352 214.69L352.25 214.44L352.5 214.45L352.75 214.47L353 214.44L353.25 214.46L353.5 214.46L353.75 214.56L354 214.49L354.25 214.65L354.5 214.72L354.75 214.71L355 214.49L355.25 214.61L355.5 214.63L355.75 214.63L356 214.49L356.25 214.41L356.5 214.63L356.75 214.59L357 214.46L357.25 214.57L357.5 214.32L357.75 214.56L358 214.47L358.25 214.06L358.5 212.84L358.75 212.18L358.85 212.11L359 212.09L359.25 213.24L359.5 213.87L359.75 214.24L360 214.27L360.25 214.41L360.5 214.65L360.75 214.55L361 214.64L361.25 214.72L361.5 214.39L361.75 214.68L362 214.7L362.25 214.6L362.5 214.48L362.75 214.41L363 214.52L363.25 214.49L363.5 214.45L363.75 214.62L364 214.6L364.25 214.45L364.5 214.42L364.75 214.55L365 214.63L365.25 214.61L365.5 214.6L365.75 214.71L366 214.65L366.25 214.52L366.5 214.65L366.75 214.61L367 214.48L367.25 214.42L367.5 214.5L367.75 214.64L368 214.65L368.25 214.47L368.5 214.57L368.75 214.38L369 214.59L369.25 214.53L369.5 214.66L369.75 214.69L370 214.37L370.25 214.74L370.5 214.42L370.75 214.73L371 214.74L371.25 214.44L371.5 214.47L371.75 214.41L372 214.71L372.25 214.65L372.5 214.74L372.75 214.67L373 214.49L373.25 214.66L373.5 214.49L373.75 214.48L374 214.52L374.25 214.63L374.5 214.48L374.75 214.57L375 214.58L375.25 214.67L375.5 214.54L375.75 214.52L376 214.57L376.25 214.53L376.5 214.64L376.75 214.39L377 214.42L377.25 214.37L377.5 214.52L377.75 214.69L378 214.59L378.25 214.6L378.5 214.72L378.75 214.68L379 214.47L379.25 214.44L379.5 214.57L379.75 214.44L380 214.59L380.25 214.38L380.5 214.51L380.75 214.64L381 214.45L381.25 214.41L381.5 214.65L381.75 214.43L382 214.71L382.25 214.6L382.5 214.71L382.75 214.56L383 214.55L383.25 214.45L383.5 214.37L383.75 214.73L384 214.44L384.25 214.38L384.5 214.72L384.75 214.56L385 214.58L385.25 214.72L385.5 214.64L385.75 214.45L386 214.46L386.25 214.61L386.5 214.62L386.75 214.44L387 214.45L387.25 214.55L387.5 214.37L387.75 214.67L388 214.61L388.25 214.41L388.5 214.58L388.75 214.59L389 214.38L389.25 214.52L389.5 214.67L389.75 214.53L390 214.64L390.25 214.44L390.5 214.75L390.75 214.62L391 214.57L391.25 214.35L391.5 214.49L391.75 214.35L392 214.52L392.25 214.42L392.5 214.45L392.75 214.47L393 214.41L393.25 214.46L393.5 214.55L393.75 214.4L394 214.57L394.25 214.73L394.5 214.63L394.75 214.73L395 214.39L395.25 214.61L395.5 214.44L395.75 214.72L396 214.54L396.25 214.63L396.5 214.65L396.75 214.4L397 214.38L397.25 214.67L397.5 214.67L397.75 214.51L398 214.35L398.25 214.35L398.5 214.66L398.75 214.61L399 214.48L399.25 214.6L399.5 214.65L399.75 214.32L400 214.61L400.25 214.69L400.5 214.63L400.75 214.61L401 214.4L401.25 214.34L401.5 213.71L401.75 212.8L402 210.87L402.25 209.66L402.5 210.63L402.75 212.56L403 213.82L403.25 214.47L403.5 214.41L403.75 214.61L404 214.36L404.25 214.4L404.5 214.4L404.75 214.43L405 214.64L405.25 214.47L405.5 214.46L405.75 214.61L406 214.51L406.25 214.69L406.5 214.62L406.75 214.67L407 214.51L407.25 214.5L407.5 214.52L407.75 214.74L408 214.72L408.25 214.57L408.5 214.54L408.75 214.37L409 214.69L409.25 214.59L409.5 214.51" fill="none" stroke="#2222fa" stroke-width="1.5" stroke-linejoin="round"/>
<path d="M41.5 246.77L41.75 246.89L42 246.98L42.25 246.81L42.5 246.81L42.75 246.9L43 246.9L43.25 246.7L43.5 246.73L43.75 246.85L44 246.98L44.25 246.85L44.5 246.71L44.75 246.8L45 246.78L45.25 247.01L45.5 246.79L45.75 247.09L46 246.82L46.25 246.77L46.5 246.71L46.75 246.9L47 246.91L47.25 247.01L47.5 246.97L47.75 246.92L48 246.72L48.25 247.07L48.5 246.8L48.75 246.79L49 246.77L49.25 246.93L49.5 246.96L49.75 246.83L50 246.8L50.25 246.7L50.5 246.94L50.75 246.98L51 246.75L51.25 246.8L51.5 247L51.75 246.98L52 246.75L52.25 247.09L52.5 246.99L52.75 246.99L53 246.83L53.25 247.09L53.5 246.88L53.75 246.95L54 247.09L54.25 247.03L54.5 246.77L54.75 246.75L55 246.78L55.25 246.75L55.5 247.05L55.75 246.92L56 246.89L56.25 246.85L56.5 246.9L56.75 246.87L57 246.99L57.25 246.86L57.5 247.05L57.75 247.04L58 247.05L58.25 247L58.5 246.77L58.75 246.87L59 247.03L59.25 246.84L59.5 246.92L59.75 246.78L60 247.02L60.25 246.83L60.5 246.83L60.75 247.01L61 246.71L61.25 246.65L61.5 246.72L61.75 246.51L62 246.11L62.15 246.16L62.25 246.34L62.5 246.63L62.75 246.89L63 246.95L63.25 246.7L63.5 246.83L63.75 246.87L64 246.7L64.25 247.01L64.5 246.81L64.75 247.01L65 246.97L65.25 246.8L65.5 246.83L65.75 246.88L66 246.78L66.25 246.7L66.5 246.87L66.75 246.79L67 246.8L67.25 247.01L67.5 247L67.75 246.86L68 246.71L68.25 247L68.5 246.8L68.75 246.74L69 247L69.25 247.06L69.5 246.8L69.75 246.92L70 247.05L70.25 246.91L70.5 246.84L70.75 246.76L71 246.71L71.25 247.06L71.5 247.02L71.75 246.77L72 246.96L72.25 246.78L72.5 247L72.75 246.85L73 246.98L73.25 246.91L73.5 246.73L73.75 246.93L74 246.96L74.25 246.72L74.5 246.71L74.75 246.81L75 246.99L75.25 247.09L75.5 246.88L75.75 247.04L76 246.98L76.25 246.81L76.5 246.88L76.75 247.04L77 246.89L77.25 246.9L77.5 246.99L77.75 246.76L78 246.88L78.25 246.91L78.5 246.93L78.75 246.98L79 246.81L79.25 246.89L79.5 246.88L79.75 246.74L80 247.01L80.25 247.08L80.5 246.92L80.75 246.86L81 246.85L81.25 246.88L81.5 246.85L81.75 246.81L82 247.08L82.25 246.83L82.5 246.77L82.75 246.95L83 246.69L83.25 246.83L83.5 246.91L83.75 247.01L84 246.79L84.25 246.69L84.5 247.06L84.75 246.67L85 246.83L85.25 246.87L85.5 247.06L85.75 246.81L86 246.76L86.25 246.77L86.5 246.81L86.75 246.72L87 247.02L87.25 246.86L87.5 246.95L87.75 246.76L88 246.91L88.25 247.01L88.5 246.74L88.75 247.02L89 246.75L89.25 246.92L89.5 247.01L89.75 246.81L90 247L90.25 246.78L90.5 246.79L90.75 246.98L91 246.85L91.25 246.62L91.5 246.65L91.75 246.8L92 246.72L92.25 246.59L92.5 246.89L92.75 246.68L93 246.9L93.25 246.67L93.5 246.59L93.75 246.67L94 246.81L94.25 246.82L94.5 246.66L94.75 246.5L95 246.58L95.25 246.43L95.5 246.43L95.75 246.23L96 246.16L96.25 246.43L96.5 246.25L96.75 245.89L97 245.83L97.25 245.32L97.5 245.2L97.75 244.35L98 242.24L98.25 234.65L98.5 214.58L98.75 182.69L99 163.43L99.25 181.82L99.5 213.11L99.75 231.79L100 233.24L100.25 218.59L100.5 189.47L100.75 165.67L100.8 164.97L101 177.86L101.25 209.33L101.5 232.11L101.75 241.55L102 244.23L102.25 245.13L102.5 245.26L102.75 245.94L103 245.99L103.25 245.98L103.5 246.44L103.75 246.19L104 246.61L104.25 246.29L104.5 246.35L104.75 246.55L105 246.64L105.25 246.66L105.5 246.78L105.75 246.52L106 246.79L106.25 246.64L106.5 246.91L106.75 246.79L107 246.83L107.25 246.61L107.5 246.94L107.75 246.69L108 246.67L108.25 246.76L108.5 246.91L108.75 246.73L109 246.8L109.25 246.86L109.5 246.72L109.75 246.67L110 246.79L110.25 246.92L110.5 246.91L110.75 246.72L111 246.9L111.25 246.98L111.5 246.93L111.75 246.72L112 246.67L112.25 247.05L112.5 246.94L112.75 246.77L113 246.95L113.25 246.89L113.5 246.91L113.75 246.81L114 246.93L114.25 246.82L114.5 246.82L114.75 246.8L115 246.96L115.25 247.01L115.5 246.79L115.75 246.7L116 246.79L116.25 246.99L116.5 246.83L116.75 246.69L117 247.02L117.25 246.86L117.5 246.71L117.75 247L118 246.9L118.25 247.04L118.5 247.03L118.75 247.03L119 247.05L119.25 246.85L119.5 247.02L119.75 246.9L120 246.96L120.25 246.79L120.5 246.95L120.75 246.73L121 247.04L121.25 246.77L121.5 246.93L121.75 247.04L122 247.03L122.25 247.04L122.5 246.87L122.75 246.73L123 247.09L123.25 246.82L123.5 247.05L123.75 246.86L124 246.88L124.25 246.92L124.5 246.92L124.75 247.01L125 246.93L125.25 246.77L125.5 246.91L125.75 246.74L126 247.04L126.25 246.77L126.5 246.85L126.75 246.94L127 246.84L127.25 247.06L127.5 247.02L127.75 246.83L128 246.87L128.25 246.99L128.5 246.9L128.75 246.95L129 246.83L129.25 246.93L129.5 246.94L129.75 247.06L130 246.84L130.25 247.02L130.5 246.79L130.75 246.82L131 246.79L131.25 247.07L131.5 246.74L131.75 246.81L132 246.89L132.25 246.98L132.5 246.96L132.75 246.75L133 246.86L133.25 246.99L133.5 246.76L133.75 246.75L134 247.03L134.25 246.7L134.5 246.73L134.75 246.77L135 247.03L135.25 246.84L135.5 246.87L135.75 246.91L136 247.05L136.25 246.71L136.5 246.78L136.75 246.86L137 246.95L137.25 246.75L137.5 246.87L137.75 246.92L138 246.72L138.25 246.83L138.5 246.72L138.75 247.06L139 246.7L139.25 246.75L139.5 246.94L139.75 246.78L140 246.92L140.25 246.82L140.5 247.08L140.75 246.9L141 246.8L141.25 246.68L141.5 246.65L141.75 246.43L142 245.99L142.15 245.89L142.25 245.86L142.5 246.4L142.75 246.56L143 246.81L143.25 247.03L143.5 246.98L143.75 246.86L144 247L144.25 246.99L144.5 246.8L144.75 246.84L145 246.98L145.25 246.83L145.5 246.82L145.75 246.89L146 246.7L146.25 246.77L146.5 247.05L146.75 246.73L147 246.87L147.25 246.3L147.5 245.9L147.75 245.47L147.85 245.33L148 245.72L148.25 246.28L148.5 246.48L148.75 246.63L149 247L149.25 246.97L149.5 246.87L149.75 246.69L150 246.67L150.25 246.94L150.5 246.94L150.75 246.85L151 246.79L151.25 246.77L151.5 246.8L151.75 246.82L152 246.89L152.25 246.8L152.5 246.76L152.75 246.71L153 246.87L153.25 246.96L153.5 246.63L153.75 246.84L154 246.74L154.25 246.49L154.5 246.32L154.75 246.19L155 244.46L155.25 240.52L155.5 234.24L155.75 230.83L156 234.36L156.25 240.48L156.5 244.51L156.75 246.06L157 246.45L157.25 246.46L157.5 246.82L157.75 246.81L158 246.67L158.25 246.71L158.5 246.71L158.75 246.63L159 246.88L159.25 246.75L159.5 246.91L159.75 246.99L160 246.79L160.25 246.78L160.5 246.81L160.75 246.86L161 246.69L161.25 246.83L161.5 246.8L161.75 246.72L162 247.01L162.25 246.96L162.5 246.88L162.75 246.71L163 246.97L163.25 246.84L163.5 247.04L163.75 246.94L164 246.78L164.25 246.99L164.5 246.92L164.75 246.83L165 247L165.25 246.82L165.5 246.74L165.75 246.7L166 246.93L166.25 246.79L166.5 246.74L166.75 246.69L167 246.97L167.25 246.76L167.5 246.95L167.75 246.82L168 246.38L168.25 245.41L168.5 245.1L168.55 244.95L168.75 245.35L169 246.15L169.25 246.47L169.5 246.72L169.75 246.99L170 246.77L170.25 246.71L170.5 246.69L170.75 246.9L171 246.8L171.25 247.06L171.5 246.69L171.75 246.85L172 246.97L172.25 246.93L172.5 247.02L172.75 246.95L173 247.04L173.25 247.08L173.5 247.04L173.75 246.94L174 246.85L174.25 246.91L174.5 246.78L174.75 246.8L175 246.9L175.25 246.87L175.5 246.85L175.75 246.73L176 247.09L176.25 246.83L176.5 246.89L176.75 246.83L177 246.92L177.25 247.01L177.5 247.07L177.75 246.93L178 247.07L178.25 246.84L178.5 246.88L178.75 246.83L179 247.08L179.25 246.74L179.5 246.78L179.75 247L180 246.78L180.25 246.71L180.5 246.83L180.75 246.87L181 246.86L181.25 246.77L181.5 246.81L181.75 246.79L182 246.74L182.25 246.86L182.5 246.74L182.75 246.72L183 247L183.25 246.96L183.5 246.73L183.75 246.73L184 246.42L184.25 245.88L184.5 244.6L184.75 242.1L185 239.61L185.05 239.68L185.25 240.94L185.5 243.43L185.75 245.67L186 246.35L186.25 246.78L186.5 246.89L186.75 246.95L187 246.93L187.25 246.67L187.5 246.91L187.75 246.88L188 246.78L188.25 246.75L188.5 246.86L188.75 246.84L189 246.84L189.25 247.06L189.5 246.77L189.75 247.02L190 246.74L190.25 246.96L190.5 246.86L190.75 246.84L191 246.87L191.25 246.74L191.5 246.77L191.75 246.85L192 246.76L192.25 247.02L192.5 246.96L192.75 246.93L193 246.96L193.25 246.75L193.5 246.68L193.75 246.71L194 247.03L194.25 246.87L194.5 247.06L194.75 246.8L195 246.82L195.25 246.92L195.5 247L195.75 246.82L196 246.83L196.25 246.76L196.5 246.67L196.75 246.8L197 246.4L197.25 245.48L197.5 244.78L197.55 245.05L197.75 245.18L198 246.03L198.25 246.42L198.5 246.48L198.75 246.76L199 246.44L199.25 246.55L199.5 245.41L199.75 243.21L200 239.45L200.25 237.39L200.5 239.71L200.75 243.11L201 245.39L201.25 246.21L201.5 246.42L201.75 246.7L202 246.63L202.25 246.86L202.5 246.84L202.75 246.78L203 246.94L203.25 246.94L203.5 246.63L203.75 246.68L204 246.16L204.25 244.6L204.5 242.69L204.75 241.12L205 242.65L205.25 244.9L205.5 246.15L205.75 246.67L206 246.8L206.25 246.75L206.5 246.66L206.75 246.78L207 246.77L207.25 246.98L207.5 247.01L207.75 247.05L208 246.8L208.25 247.03L208.5 247.04L208.75 246.69L209 246.9L209.25 246.72L209.5 246.72L209.75 246.86L210 246.97L210.25 246.76L210.5 246.82L210.75 246.88L211 246.91L211.25 246.74L211.5 246.76L211.75 246.7L212 246.82L212.25 247.09L212.5 246.77L212.75 246.99L213 246.95L213.25 247.04L213.5 247.02L213.75 246.72L214 246.83L214.25 247.03L214.5 246.95L214.75 247.04L215 246.71L215.25 247.03L215.5 246.85L215.75 247.01L216 246.93L216.25 246.84L216.5 246.91L216.75 246.71L217 247.07L217.25 247.05L217.5 246.96L217.75 246.96L218 246.99L218.25 246.87L218.5 246.79L218.75 246.96L219 247.09L219.25 247.04L219.5 247.02L219.75 246.76L220 246.82L220.25 246.81L220.5 246.92L220.75 247.06L221 246.95L221.25 246.93L221.5 246.87L221.75 246.77L222 246.8L222.25 247.09L222.5 247.06L222.75 246.96L223 246.97L223.25 246.79L223.5 246.71L223.75 246.71L224 246.7L224.25 246.78L224.5 247.09L224.75 246.92L225 246.78L225.25 246.73L225.5 246.7L225.75 246.7L226 246.74L226.25 246.82L226.5 246.75L226.75 246.77L227 246.93L227.25 246.72L227.5 246.71L227.75 246.95L228 246.72L228.25 246.75L228.5 246.23L228.75 245.55L229 244.25L229.15 244.11L229.25 244.46L229.5 245.17L229.75 246.24L230 246.53L230.25 246.64L230.5 246.81L230.75 246.84L231 246.68L231.25 246.89L231.5 246.85L231.75 246.83L232 246.99L232.25 247.04L232.5 246.85L232.75 246.81L233 247L233.25 247L233.5 246.9L233.75 246.94L234 246.83L234.25 246.98L234.5 246.93L234.75 247.04L235 246.82L235.25 246.72L235.5 247.04L235.75 246.93L236 247.02L236.25 247L236.5 247.01L236.75 246.84L237 247.04L237.25 246.94L237.5 246.86L237.75 246.76L238 246.74L238.25 246.79L238.5 246.83L238.75 246.83L239 246.95L239.25 247.08L239.5 246.92L239.75 246.96L240 246.7L240.25 246.98L240.5 246.91L240.75 247.01L241 246.84L241.25 246.95L241.5 246.9L241.75 247.01L242 246.87L242.25 247.03L242.5 247.04L242.75 246.9L243 246.89L243.25 246.97L243.5 246.9L243.75 247.08L244 247.06L244.25 246.89L244.5 246.96L244.75 246.73L245 247.05L245.25 246.93L245.5 246.69L245.75 246.69L246 247.02L246.25 246.99L246.5 246.92L246.75 246.83L247 246.76L247.25 246.85L247.5 247L247.75 246.87L248 246.57L248.25 246.42L248.5 245.74L248.75 244.9L249 243.97L249.05 243.97L249.25 244.25L249.5 245.41L249.75 246.17L250 246.6L250.25 246.74L250.5 246.78L250.75 246.78L251 246.95L251.25 247L251.5 246.82L251.75 246.99L252 246.79L252.25 246.78L252.5 246.99L252.75 246.71L253 246.7L253.25 247.07L253.5 246.86L253.75 246.83L254 246.97L254.25 247.02L254.5 246.81L254.75 246.98L255 246.7L255.25 247L255.5 246.8L255.75 246.78L256 246.63L256.25 246.63L256.5 246.75L256.75 246.61L257 246.8L257.25 246.9L257.5 246.56L257.75 246.66L258 246.43L258.25 245.98L258.5 244.38L258.75 239.78L259 232.76L259.25 228.26L259.5 232.7L259.75 239.8L260 244.15L260.25 245.82L260.5 246.57L260.75 246.61L261 246.64L261.25 246.7L261.5 246.88L261.75 246.82L262 246.68L262.25 246.98L262.5 246.96L262.75 246.94L263 246.92L263.25 246.91L263.5 246.77L263.75 247.04L264 246.94L264.25 246.72L264.5 246.98L264.75 246.83L265 246.68L265.25 247.01L265.5 246.74L265.75 246.82L266 246.69L266.25 246.85L266.5 246.85L266.75 246.96L267 247L267.25 246.95L267.5 246.84L267.75 246.69L268 246.81L268.25 246.21L268.5 245.18L268.75 242.89L269 239.94L269.15 239.33L269.25 239.47L269.5 242.15L269.75 244.69L270 246.16L270.25 246.5L270.5 246.85L270.75 246.67L271 246.68L271.25 246.91L271.5 246.71L271.75 246.98L272 246.87L272.25 246.72L272.5 246.94L272.75 247.07L273 246.79L273.25 246.9L273.5 246.89L273.75 247.06L274 247.07L274.25 246.71L274.5 246.83L274.75 247L275 246.85L275.25 246.89L275.5 246.91L275.75 246.69L276 246.7L276.25 247.04L276.5 246.83L276.75 246.84L277 246.86L277.25 246.84L277.5 246.65L277.75 245.97L277.95 246.06L278 245.81L278.25 246.3L278.5 246.74L278.75 246.79L279 246.8L279.25 247.02L279.5 246.96L279.75 247.05L280 246.9L280.25 246.81L280.5 246.97L280.75 246.89L281 246.69L281.25 246.75L281.5 247.08L281.75 246.95L282 246.71L282.25 247L282.5 247L282.75 246.72L283 247.09L283.25 246.77L283.5 246.9L283.75 246.98L284 246.89L284.25 246.84L284.5 246.89L284.75 246.95L285 247.08L285.25 247.05L285.5 247.09L285.75 247.02L286 246.89L286.25 246.84L286.5 247.06L286.75 247.07L287 246.82L287.25 247.01L287.5 246.84L287.75 246.72L288 246.89L288.25 247.06L288.5 246.91L288.75 247.02L289 247.04L289.25 247.02L289.5 246.82L289.75 247.06L290 246.73L290.25 246.9L290.5 246.73L290.75 246.85L291 247.05L291.25 247.02L291.5 247.1L291.75 246.92L292 246.91L292.25 246.77L292.5 246.89L292.75 247.06L293 246.83L293.25 247.04L293.5 246.82L293.75 247.02L294 246.78L294.25 247.08L294.5 246.75L294.75 246.73L295 246.93L295.25 247.01L295.5 246.98L295.75 246.86L296 246.98L296.25 246.78L296.5 246.83L296.75 246.81L297 246.79L297.25 246.72L297.5 246.78L297.75 246.92L298 246.94L298.25 246.83L298.5 246.94L298.75 246.83L299 247.02L299.25 246.7L299.5 247.01L299.75 247.06L300 246.93L300.25 246.95L300.5 247.09L300.75 246.76L301 246.74L301.25 246.9L301.5 246.99L301.75 246.91L302 246.89L302.25 246.87L302.5 246.88L302.75 247.05L303 246.72L303.25 246.96L303.5 246.73L303.75 247.03L304 246.8L304.25 247.01L304.5 246.82L304.75 246.95L305 246.9L305.25 247.07L305.5 246.88L305.75 246.9L306 246.89L306.25 246.79L306.5 247.07L306.75 246.82L307 246.75L307.25 246.77L307.5 246.97L307.75 247.04L308 246.91L308.25 247.06L308.5 246.76L308.75 247.01L309 246.95L309.25 246.7L309.5 246.61L309.75 246.68L310 246.59L310.25 246.51L310.5 246.46L310.75 246.11L311 245.97L311.25 245.89L311.5 245.77L311.55 245.88L311.75 245.97L312 245.93L312.25 246.01L312.5 246.4L312.75 246.29L313 246.73L313.25 246.73L313.5 246.65L313.75 246.61L314 246.97L314.25 246.66L314.5 246.97L314.75 246.89L315 246.95L315.25 246.76L315.5 246.97L315.75 246.79L316 246.92L316.25 247.07L316.5 246.93L316.75 246.75L317 246.79L317.25 246.85L317.5 247.02L317.75 247.01L318 246.85L318.25 246.93L318.5 246.84L318.75 246.89L319 246.82L319.25 247.07L319.5 246.84L319.75 246.82L320 246.94L320.25 246.78L320.5 246.74L320.75 246.87L321 247.03L321.25 246.84L321.5 246.81L321.75 246.81L322 246.94L322.25 246.81L322.5 246.91L322.75 246.9L323 246.71L323.25 246.83L323.5 247.03L323.75 246.78L324 247L324.25 246.73L324.5 246.89L324.75 246.87L325 246.96L325.25 246.7L325.5 246.75L325.75 246.86L326 247.07L326.25 246.9L326.5 247.04L326.75 246.91L327 247.09L327.25 246.73L327.5 247.05L327.75 246.8L328 246.79L328.25 246.91L328.5 246.87L328.75 247.1L329 247.07L329.25 246.99L329.5 246.8L329.75 246.79L330 246.87L330.25 246.83L330.5 246.79L330.75 246.78L331 246.8L331.25 246.82L331.5 246.74L331.75 246.82L332 247.08L332.25 247.03L332.5 246.94L332.75 247.08L333 247.07L333.25 246.73L333.5 246.72L333.75 246.83L334 246.91L334.25 247.1L334.5 246.71L334.75 246.98L335 247.01L335.25 246.8L335.5 247L335.75 247.04L336 246.73L336.25 246.96L336.5 246.88L336.75 247L337 246.75L337.25 246.96L337.5 246.7L337.75 246.71L338 246.87L338.25 246.83L338.5 246.86L338.75 246.77L339 247.09L339.25 246.85L339.5 246.89L339.75 246.83L340 247.03L340.25 246.74L340.5 247.05L340.75 246.75L341 247.01L341.25 246.82L341.5 246.87L341.75 246.7L342 246.86L342.25 246.35L342.5 245.8L342.75 244.33L343 243.3L343.05 243.3L343.25 243.81L343.5 245.04L343.75 246.36L344 246.5L344.25 246.91L344.5 246.99L344.75 246.7L345 246.67L345.25 246.99L345.5 246.81L345.75 246.95L346 247.01L346.25 247.06L346.5 246.89L346.75 247.02L347 247.05L347.25 247L347.5 246.84L347.75 247.06L348 246.86L348.25 247.05L348.5 246.85L348.75 246.89L349 246.71L349.25 246.74L349.5 247.07L349.75 246.88L350 246.99L350.25 246.88L350.5 246.99L350.75 246.9L351 246.75L351.25 246.82L351.5 246.95L351.75 246.76L352 247.07L352.25 246.72L352.5 246.92L352.75 247.04L353 246.99L353.25 246.75L353.5 246.74L353.75 246.98L354 246.86L354.25 246.73L354.5 246.74L354.75 246.95L355 246.7L355.25 246.8L355.5 247.06L355.75 246.78L356 247.01L356.25 246.67L356.5 246.71L356.75 246.57L357 246.56L357.25 245.86L357.5 245.19L357.65 245.03L357.75 245.07L358 245.52L358.25 246.35L358.5 246.53L358.75 246.94L359 246.8L359.25 246.85L359.5 247.03L359.75 247.08L360 246.93L360.25 246.84L360.5 247.04L360.75 247.03L361 246.78L361.25 246.87L361.5 247.07L361.75 247.09L362 247.06L362.25 246.89L362.5 246.76L362.75 247.05L363 246.78L363.25 246.94L363.5 246.85L363.75 247.04L364 246.84L364.25 246.85L364.5 247.04L364.75 246.99L365 247.1L365.25 246.75L365.5 246.75L365.75 246.97L366 246.9L366.25 247.06L366.5 246.88L366.75 246.72L367 246.89L367.25 246.8L367.5 247.02L367.75 247.02L368 247.04L368.25 246.74L368.5 246.92L368.75 246.78L369 247.09L369.25 246.76L369.5 246.96L369.75 246.99L370 246.78L370.25 246.93L370.5 246.75L370.75 246.72L371 246.81L371.25 246.73L371.5 246.88L371.75 246.97L372 247.07L372.25 246.8L372.5 246.89L372.75 246.98L373 246.83L373.25 246.82L373.5 246.85L373.75 247.03L374 246.84L374.25 247.01L374.5 246.76L374.75 246.82L375 246.82L375.25 246.79L375.5 246.76L375.75 246.86L376 247.03L376.25 246.96L376.5 247.1L376.75 246.83L377 246.82L377.25 246.8L377.5 246.9L377.75 246.75L378 247.02L378.25 246.87L378.5 246.72L378.75 246.9L379 246.87L379.25 246.78L379.5 246.82L379.75 246.97L380 247.1L380.25 246.94L380.5 246.8L380.75 246.71L381 246.83L381.25 246.8L381.5 246.87L381.75 246.88L382 246.81L382.25 246.77L382.5 247.07L382.75 247.08L383 246.99L383.25 247.07L383.5 246.93L383.75 247L384 246.88L384.25 246.97L384.5 247.04L384.75 246.98L385 247.02L385.25 246.94L385.5 246.84L385.75 247.02L386 247.06L386.25 246.79L386.5 246.77L386.75 246.7L387 246.8L387.25 246.77L387.5 246.78L387.75 246.77L388 246.83L388.25 246.77L388.5 247.08L388.75 246.73L389 246.71L389.25 247.07L389.5 246.85L389.75 247L390 246.83L390.25 246.71L390.5 246.72L390.75 247.07L391 246.72L391.25 246.88L391.5 246.81L391.75 246.96L392 246.85L392.25 247.02L392.5 246.79L392.75 246.92L393 247.09L393.25 246.91L393.5 247.08L393.75 246.72L394 247.05L394.25 246.86L394.5 247.1L394.75 246.98L395 246.8L395.25 247.01L395.5 246.77L395.75 246.91L396 247L396.25 246.77L396.5 246.72L396.75 247.04L397 246.78L397.25 247L397.5 246.89L397.75 246.78L398 247.04L398.25 246.85L398.5 246.81L398.75 247.06L399 247.1L399.25 246.83L399.5 247.09L399.75 246.74L400 247.02L400.25 246.93L400.5 246.8L400.75 246.86L401 246.83L401.25 246.97L401.5 246.87L401.75 246.87L402 246.97L402.25 246.84L402.5 246.73L402.75 246.9L403 247.05L403.25 246.8L403.5 246.81L403.75 247.07L404 246.77L404.25 247.08L404.5 246.82L404.75 246.78L405 246.99L405.25 247.06L405.5 246.89L405.75 246.81L406 246.75L406.25 246.7L406.5 246.98L406.75 247L407 246.83L407.25 246.89L407.5 247.01L407.75 246.98L408 246.97L408.25 247.07L408.5 246.8L408.75 247.09L409 246.95L409.25 246.83L409.5 246.97" fill="none" stroke="#f522f5" stroke-width="1.5" stroke-linejoin="round"/>
<path d="M41.5 140.07L41.75 140.11L42 140.28L42.25 140.27L42.5 140.19L42.75 140.27L43 140.29L43.25 140.1L43.5 139.98L43.75 140.32L44 139.97L44.25 140.13L44.5 139.99L44.75 140.16L45 140.26L45.25 139.96L45.5 140.15L45.75 140.11L46 140.21L46.25 140.31L46.5 140.22L46.75 139.97L47 140.09L47.25 140.13L47.5 140.01L47.75 140.29L48 140.09L48.25 140.09L48.5 140.03L48.75 140.16L49 140.27L49.25 139.99L49.5 140.14L49.75 140.06L50 139.97L50.25 140.1L50.5 140.2L50.75 140.19L51 140.34L51.25 140.22L51.5 140.31L51.75 140.23L52 140.21L52.25 140.3L52.5 140.28L52.75 140.24L53 140.06L53.25 140.05L53.5 140.28L53.75 139.94L54 140.08L54.25 140.26L54.5 140.04L54.75 140.11L55 140.05L55.25 140.16L55.5 140.23L55.75 139.91L56 140.04L56.25 140.2L56.5 140L56.75 140.19L57 139.86L57.25 139.87L57.5 139.51L57.75 138.98L58 136.47L58.25 132.36L58.5 128.9L58.55 128.61L58.75 130.62L59 134.77L59.25 138.31L59.5 139.55L59.75 139.71L60 139.96L60.25 139.92L60.5 140.01L60.75 140.23L61 140.05L61.25 140.11L61.5 139.91L61.75 139.92L62 140.1L62.25 140.08L62.5 140.29L62.75 140.15L63 140.28L63.25 140.16L63.5 140.3L63.75 140.06L64 139.94L64.25 140.24L64.5 140.2L64.75 140.02L65 140.02L65.25 140.13L65.5 140.3L65.75 140.21L66 140.11L66.25 140.17L66.5 140.08L66.75 140.1L67 140.02L67.25 140.22L67.5 139.95L67.75 140.15L68 139.98L68.25 140L68.5 140.25L68.75 140.29L69 140.15L69.25 140.33L69.5 140.23L69.75 140.16L70 140.19L70.25 139.95L70.5 139.99L70.75 140.25L71 140.1L71.25 140.33L71.5 140.05L71.75 140.06L72 140.03L72.25 140.32L72.5 140.17L72.75 140.05L73 139.97L73.25 140.18L73.5 139.95L73.75 140.29L74 140.01L74.25 140.25L74.5 140.29L74.75 140.06L75 140.18L75.25 140.22L75.5 140.13L75.75 140.11L76 140.3L76.25 140.05L76.5 140.18L76.75 139.95L77 140.18L77.25 140.34L77.5 140.11L77.75 140.24L78 140.08L78.25 140.1L78.5 140.1L78.75 140.3L79 140.08L79.25 139.96L79.5 140.16L79.75 140.18L80 140.19L80.25 140.13L80.5 140.06L80.75 140.23L81 140.04L81.25 140.05L81.5 140.01L81.75 139.97L82 140.01L82.25 140.2L82.5 140.08L82.75 140.11L83 140.01L83.25 140.02L83.5 140.2L83.75 140.29L84 139.97L84.25 140.19L84.5 140.3L84.75 140.13L85 140.27L85.25 139.98L85.5 140.22L85.75 139.95L86 139.99L86.25 139.94L86.5 139.9L86.75 140.2L87 140.04L87.25 140.04L87.5 140.18L87.75 139.99L88 140.23L88.25 139.96L88.5 140.27L88.75 140.22L89 140.07L89.25 140.24L89.5 140.19L89.75 140.23L90 139.96L90.25 140L90.5 139.94L90.75 139.99L91 140.02L91.25 140.13L91.5 139.9L91.75 139.97L92 139.83L92.25 139.87L92.5 139.67L92.75 139.82L93 139.79L93.25 139.69L93.5 139.68L93.75 139.34L94 138.79L94.25 137.51L94.5 132.5L94.75 122.75L95 113.2L95.1 112.08L95.25 114.43L95.5 124.84L95.75 133.46L96 137.45L96.25 138.43L96.5 138.78L96.75 138.45L97 138.41L97.25 137.79L97.5 136.92L97.75 134.21L98 124.8L98.25 98.79L98.5 57.06L98.75 32.63L99 57.23L99.25 98.9L99.5 124.88L99.75 134.46L100 137.16L100.25 138.26L100.5 138.56L100.75 138.87L101 139.41L101.25 139.55L101.5 139.57L101.75 139.74L102 139.5L102.25 139.85L102.5 139.83L102.75 139.75L103 139.78L103.25 139.97L103.5 140.09L103.75 140.04L104 139.78L104.25 140.01L104.5 139.93L104.75 139.9L105 139.84L105.25 140.06L105.5 139.94L105.75 139.98L106 140.05L106.25 140.21L106.5 139.97L106.75 140.1L107 140.13L107.25 140.18L107.5 140.22L107.75 139.97L108 140.23L108.25 139.92L108.5 140.08L108.75 140.19L109 140.26L109.25 140.04L109.5 140.17L109.75 140.18L110 139.93L110.25 140.21L110.5 140.25L110.75 139.97L111 140.04L111.25 140.09L111.5 140.29L111.75 140.3L112 140L112.25 140.08L112.5 139.97L112.75 139.95L113 140.01L113.25 140.3L113.5 140.29L113.75 140.01L114 140.18L114.25 140.19L114.5 140.11L114.75 140.27L115 139.97L115.25 140.04L115.5 139.98L115.75 140.31L116 140.27L116.25 140.13L116.5 139.99L116.75 140.29L117 140.26L117.25 140.3L117.5 140.33L117.75 140.22L118 140.15L118.25 140.27L118.5 140L118.75 140.28L119 140.07L119.25 140.13L119.5 140.3L119.75 139.95L120 140.08L120.25 140.27L120.5 140.11L120.75 140.31L121 140.24L121.25 140.04L121.5 140.15L121.75 140.09L122 140.21L122.25 140.23L122.5 140.15L122.75 139.98L123 140.29L123.25 140.02L123.5 140.2L123.75 140.28L124 140.13L124.25 139.97L124.5 140.17L124.75 139.99L125 140.02L125.25 140.03L125.5 140.02L125.75 140.18L126 140.25L126.25 140.12L126.5 140.33L126.75 139.98L127 140.08L127.25 140.08L127.5 140.16L127.75 140.21L128 140.06L128.25 140.12L128.5 140.1L128.75 140.08L129 139.97L129.25 140.24L129.5 139.96L129.75 140.11L130 140.03L130.25 140.11L130.5 140.22L130.75 140.26L131 140.29L131.25 140.19L131.5 140.05L131.75 139.94L132 139.99L132.25 140.28L132.5 140.08L132.75 140.07L133 140.05L133.25 140.03L133.5 139.96L133.75 139.96L134 139.93L134.25 139.54L134.5 138.45L134.75 137.17L134.95 136.62L135 136.83L135.25 137.89L135.5 139.23L135.75 139.72L136 140.04L136.25 140.18L136.5 140.1L136.75 140.12L137 139.97L137.25 140.19L137.5 140.21L137.75 140.05L138 140.19L138.25 140.01L138.5 139.98L138.75 140.07L139 140.15L139.25 140.09L139.5 140.04L139.75 140.32L140 140.22L140.25 140.05L140.5 139.96L140.75 140.22L141 140.3L141.25 140.22L141.5 140.21L141.75 140.32L142 140.21L142.25 139.98L142.5 140.12L142.75 140.09L143 140.16L143.25 139.99L143.5 140.18L143.75 140.21L144 140.03L144.25 140.17L144.5 140.05L144.75 140.18L145 140.09L145.25 140.28L145.5 140.08L145.75 139.9L146 139.9L146.25 140.13L146.5 139.88L146.75 140.12L147 139.98L147.25 139.87L147.5 139.82L147.75 139.83L148 139.22L148.25 137.46L148.5 133.25L148.75 127.39L148.95 124.98L149 125.25L149.25 129.63L149.5 135.21L149.75 138.26L150 139.46L150.25 139.65L150.5 139.77L150.75 139.82L151 139.94L151.25 140.19L151.5 140.05L151.75 139.98L152 140.07L152.25 140.07L152.5 139.92L152.75 140.23L153 140.11L153.25 140.31L153.5 140.17L153.75 140.02L154 140.31L154.25 139.97L154.5 139.99L154.75 139.98L155 139.99L155.25 139.98L155.5 140.29L155.75 139.99L156 140.12L156.25 139.99L156.5 140.05L156.75 139.96L157 140.07L157.25 140.04L157.5 140.21L157.75 140.31L158 139.99L158.25 140.09L158.5 140.14L158.75 140.28L159 139.88L159.25 140.03L159.5 139.63L159.75 138.86L160 137.65L160.25 136.88L160.5 137.52L160.75 138.99L161 139.7L161.25 139.86L161.5 139.93L161.75 139.96L162 140.23L162.25 140.26L162.5 139.98L162.75 140.16L163 139.96L163.25 139.96L163.5 140.21L163.75 140.16L164 140.11L164.25 140.11L164.5 140.12L164.75 140.09L165 140.05L165.25 140.32L165.5 139.97L165.75 140.18L166 140.02L166.25 140.09L166.5 139.96L166.75 140L167 140.19L167.25 139.96L167.5 140.11L167.75 140.19L168 140.18L168.25 139.99L168.5 140.12L168.75 140.08L169 140.27L169.25 140.29L169.5 140.18L169.75 140.26L170 140.11L170.25 140.34L170.5 140.23L170.75 140.3L171 140.01L171.25 140.23L171.5 140.22L171.75 140.23L172 140.31L172.25 140.04L172.5 140L172.75 140.17L173 140.04L173.25 140.33L173.5 140.31L173.75 140.14L174 140.27L174.25 140.19L174.5 140.31L174.75 140.16L175 140.02L175.25 140.34L175.5 140.04L175.75 139.97L176 140.2L176.25 140.04L176.5 139.95L176.75 139.59L177 139.97L177.25 140.11L177.5 140.14L177.75 139.93L178 140.24L178.25 140.09L178.5 140L178.75 140.07L179 140.32L179.25 140.07L179.5 140.13L179.75 140.31L180 140.23L180.25 140.1L180.5 140.08L180.75 140.17L181 140.16L181.25 140.24L181.5 140.2L181.75 140.02L182 140.3L182.25 140.27L182.5 140.15L182.75 140L183 140.13L183.25 140.29L183.5 140.05L183.75 140.07L184 140.22L184.25 140.24L184.5 140.28L184.75 140.1L185 140.24L185.25 140.04L185.5 139.96L185.75 140.22L186 140.04L186.25 140.29L186.5 140.07L186.75 140.07L187 140.27L187.25 139.95L187.5 140.32L187.75 140.06L188 139.94L188.25 140.05L188.5 139.96L188.75 140.01L189 140.09L189.25 140.1L189.5 139.91L189.75 140.13L190 139.4L190.25 138.36L190.5 136.78L190.75 135.7L191 137.02L191.25 138.38L191.5 139.35L191.75 139.98L192 139.97L192.25 139.92L192.5 140.08L192.75 139.98L193 139.94L193.25 140.12L193.5 140.02L193.75 140.07L194 140.13L194.25 140.33L194.5 140.18L194.75 140.16L195 140.06L195.25 140.12L195.5 140.05L195.75 140.28L196 140.31L196.25 140.28L196.5 140.11L196.75 140.23L197 140.06L197.25 140.26L197.5 140.32L197.75 140.01L198 139.98L198.25 140.34L198.5 140.17L198.75 140.26L199 140.28L199.25 140.26L199.5 139.98L199.75 140.04L200 140.09L200.25 140.29L200.5 140.23L200.75 140.03L201 139.99L201.25 140.25L201.5 140.28L201.75 139.94L202 140.06L202.25 139.96L202.5 140.07L202.75 139.88L203 139.91L203.25 139.47L203.5 138.72L203.75 138.38L203.85 137.96L204 138.46L204.25 139.15L204.5 139.64L204.75 139.94L205 140.03L205.25 140.02L205.5 140.15L205.75 139.98L206 140.17L206.25 140.13L206.5 140.01L206.75 140.32L207 140.05L207.25 140.19L207.5 140.23L207.75 140.24L208 140.18L208.25 140.13L208.5 140.11L208.75 140.24L209 139.97L209.25 140.17L209.5 140.28L209.75 140.13L210 140.14L210.25 140.22L210.5 140.26L210.75 140.08L211 140.19L211.25 140.27L211.5 140.19L211.75 140.03L212 140.35L212.25 140.08L212.5 140.21L212.75 139.97L213 140.22L213.25 140.17L213.5 140.31L213.75 140.04L214 139.95L214.25 140.08L214.5 140.12L214.75 140.22L215 140.07L215.25 140.25L215.5 140.28L215.75 139.95L216 140.34L216.25 139.97L216.5 140.04L216.75 139.97L217 140.25L217.25 140.31L217.5 140.03L217.75 140.15L218 140.3L218.25 140.2L218.5 139.96L218.75 139.93L219 139.74L219.25 138.89L219.5 137.74L219.65 137.53L219.75 137.44L220 138.49L220.25 139.57L220.5 139.72L220.75 139.93L221 140.12L221.25 139.91L221.5 139.99L221.75 140.23L222 140L222.25 140.13L222.5 140.31L222.75 140.15L223 140.21L223.25 139.97L223.5 140.15L223.75 140.15L224 140.14L224.25 140.14L224.5 139.97L224.75 140.19L225 140.08L225.25 140.23L225.5 140.05L225.75 140.31L226 140.13L226.25 140.28L226.5 140.15L226.75 140.06L227 140.12L227.25 140.06L227.5 140.16L227.75 140.09L228 140.05L228.25 140.35L228.5 140.33L228.75 140.15L229 140.17L229.25 140.27L229.5 140.2L229.75 140.11L230 140.15L230.25 140.27L230.5 139.97L230.75 140.11L231 139.98L231.25 140.17L231.5 139.95L231.75 140.12L232 139.99L232.25 140.08L232.5 140.33L232.75 140.03L233 140.09L233.25 140.26L233.5 140.02L233.75 140.02L234 140.1L234.25 140.17L234.5 140.01L234.75 140.02L235 139.94L235.25 140.01L235.5 140.04L235.75 140.1L236 139.91L236.25 139.77L236.5 139.19L236.75 137.74L237 136.93L237.05 136.91L237.25 137.49L237.5 138.72L237.75 139.61L238 139.99L238.25 140L238.5 140.23L238.75 139.97L239 140.05L239.25 139.96L239.5 140.12L239.75 140.28L240 140.18L240.25 139.93L240.5 140.28L240.75 139.95L241 140L241.25 140.12L241.5 139.93L241.75 140.24L242 140.2L242.25 140.31L242.5 140.18L242.75 140.09L243 140L243.25 140.04L243.5 140.16L243.75 140.23L244 139.97L244.25 140.09L244.5 140.13L244.75 139.95L245 140.12L245.25 139.92L245.5 139.9L245.75 139.78L246 139.97L246.25 139.27L246.5 138.18L246.75 135.06L247 129.86L247.25 126.69L247.5 129.86L247.75 135.01L248 138.27L248.25 139.43L248.5 139.65L248.75 139.98L249 139.89L249.25 140.13L249.5 139.97L249.75 140.2L250 139.97L250.25 140.14L250.5 140.28L250.75 140.01L251 140.22L251.25 140.12L251.5 139.91L251.75 140.15L252 140.06L252.25 139.94L252.5 140.23L252.75 140.19L253 140.29L253.25 139.96L253.5 140.05L253.75 140.13L254 140.02L254.25 139.92L254.5 139.98L254.75 139.87L255 139.46L255.25 138.45L255.5 137.26L255.65 137L255.75 137.21L256 138.12L256.25 139.3L256.5 139.98L256.75 140.13L257 140.18L257.25 140.26L257.5 140.09L257.75 140.24L258 140.23L258.25 140.06L258.5 140.22L258.75 140.11L259 140.15L259.25 139.99L259.5 140.22L259.75 140.05L260 140.09L260.25 140.13L260.5 140.22L260.75 140.3L261 140.25L261.25 140.16L261.5 140L261.75 140.08L262 140.08L262.25 139.92L262.5 139.95L262.75 139.08L263 137.59L263.25 135.57L263.45 134.39L263.5 134.53L263.75 136.41L264 138.51L264.25 139.48L264.5 139.98L264.75 140.04L265 139.89L265.25 140.24L265.5 140.24L265.75 140.27L266 140L266.25 140.14L266.5 140.25L266.75 140.27L267 140.27L267.25 139.95L267.5 140.21L267.75 140.07L268 139.99L268.25 140.14L268.5 139.97L268.75 140.06L269 140.11L269.25 140.1L269.5 140.07L269.75 140.14L270 140.15L270.25 140L270.5 140.04L270.75 140.08L271 139.95L271.25 140.15L271.5 140.31L271.75 140.04L272 140.3L272.25 140.09L272.5 140.13L272.75 140.26L273 140.12L273.25 140.15L273.5 140.31L273.75 139.97L274 140.12L274.25 140.07L274.5 140.14L274.75 140.17L275 140.22L275.25 140.06L275.5 140.32L275.75 140.33L276 140.26L276.25 140.19L276.5 140.26L276.75 139.96L277 140.19L277.25 140.12L277.5 140.07L277.75 140.21L278 140.08L278.25 140.26L278.5 139.87L278.75 139.73L279 139.48L279.25 139.16L279.5 139.34L279.75 139.89L280 139.93L280.25 139.96L280.5 140.21L280.75 140.28L281 140.18L281.25 140.19L281.5 140.06L281.75 140.31L282 140.26L282.25 140.27L282.5 140.16L282.75 140.04L283 140.14L283.25 140.1L283.5 140.2L283.75 140L284 140.03L284.25 140.17L284.5 140L284.75 140.01L285 140.16L285.25 140.13L285.5 140.28L285.75 140.34L286 140.17L286.25 140.21L286.5 140.12L286.75 140.19L287 140.1L287.25 140.3L287.5 140.15L287.75 140.05L288 140.12L288.25 140.29L288.5 139.96L288.75 140.34L289 140.25L289.25 140.15L289.5 140.06L289.75 140.05L290 140.08L290.25 140.24L290.5 140.2L290.75 140.15L291 140.1L291.25 140.11L291.5 140L291.75 140.09L292 140.22L292.25 139.95L292.5 140.32L292.75 139.95L293 140.12L293.25 140.05L293.5 140.15L293.75 140.04L294 140.17L294.25 139.94L294.5 140.27L294.75 140.27L295 140.23L295.25 140.09L295.5 139.63L295.75 139.18L296 138.14L296.25 137.62L296.5 138.09L296.75 139.25L297 139.7L297.25 139.82L297.5 139.94L297.75 140.3L298 140.04L298.25 139.98L298.5 139.99L298.75 140.31L299 140.26L299.25 140.11L299.5 139.96L299.75 140.26L300 139.94L300.25 140.24L300.5 140.11L300.75 140.09L301 139.95L301.25 140.21L301.5 140.3L301.75 140.13L302 140.3L302.25 140.02L302.5 140.08L302.75 140.12L303 140.02L303.25 140.34L303.5 140.15L303.75 139.95L304 140.2L304.25 140.01L304.5 140.09L304.75 140.28L305 140.08L305.25 140.06L305.5 140.29L305.75 140.05L306 140.33L306.25 139.96L306.5 139.98L306.75 140.35L307 140.2L307.25 140.17L307.5 140.27L307.75 140.07L308 140.3L308.25 140.06L308.5 140.29L308.75 140.15L309 140.31L309.25 140.33L309.5 140.27L309.75 140.01L310 140.13L310.25 140.31L310.5 140.13L310.75 140.03L311 140.14L311.25 140L311.5 139.98L311.75 140.18L312 139.95L312.25 140.11L312.5 140.08L312.75 140.27L313 140.09L313.25 140.13L313.5 140.2L313.75 140.02L314 140.14L314.25 140.03L314.5 140.11L314.75 140.27L315 140.33L315.25 140.33L315.5 140.27L315.75 139.97L316 140.12L316.25 140.1L316.5 140.1L316.75 140.13L317 140.22L317.25 139.95L317.5 140.18L317.75 139.97L318 140.25L318.25 140.32L318.5 140.21L318.75 140.26L319 140.34L319.25 140.31L319.5 140.06L319.75 140.19L320 140.14L320.25 140.15L320.5 140.12L320.75 139.95L321 140.08L321.25 139.96L321.5 140.3L321.75 140.26L322 139.97L322.25 140.2L322.5 140.29L322.75 140.19L323 140.2L323.25 140.13L323.5 140.09L323.75 140.07L324 139.96L324.25 140.05L324.5 140L324.75 140.08L325 140.04L325.25 140L325.5 140.21L325.75 139.68L326 139.1L326.25 138.1L326.5 136.98L326.55 136.82L326.75 137.51L327 138.65L327.25 139.72L327.5 139.89L327.75 139.99L328 140.09L328.25 140.15L328.5 139.97L328.75 139.95L329 140.23L329.25 140.03L329.5 140.31L329.75 140.26L330 140.15L330.25 139.97L330.5 140.04L330.75 139.95L331 140.18L331.25 140.17L331.5 140.23L331.75 140.09L332 140.31L332.25 140.29L332.5 140.22L332.75 140.15L333 140.32L333.25 140.15L333.5 139.95L333.75 140.3L334 139.98L334.25 140.09L334.5 140.09L334.75 140.29L335 140.19L335.25 140.16L335.5 140.34L335.75 140.3L336 140.2L336.25 140.12L336.5 140.04L336.75 140.3L337 140.23L337.25 140.31L337.5 140.11L337.75 140.32L338 139.97L338.25 140.05L338.5 140.31L338.75 140.24L339 140L339.25 140.07L339.5 140.01L339.75 140.17L340 140.18L340.25 140.12L340.5 139.96L340.75 139.54L341 138.97L341.25 138.25L341.45 137.79L341.5 137.77L341.75 138.49L342 139.32L342.25 139.68L342.5 139.92L342.75 140.01L343 139.91L343.25 140.06L343.5 140.05L343.75 140.09L344 140.1L344.25 140.25L344.5 140.15L344.75 140.3L345 140.17L345.25 140.07L345.5 140.12L345.75 140.22L346 140L346.25 140.23L346.5 140.33L346.75 140.24L347 140.22L347.25 140.28L347.5 139.95L347.75 140.17L348 140.1L348.25 140.02L348.5 140.1L348.75 139.96L349 140.22L349.25 139.98L349.5 140.1L349.75 139.98L350 140.34L350.25 140.04L350.5 140.16L350.75 139.95L351 140.06L351.25 140.11L351.5 139.95L351.75 140.29L352 140.19L352.25 139.95L352.5 140.11L352.75 139.97L353 140.08L353.25 140.19L353.5 139.87L353.75 139.82L354 139.08L354.25 138.52L354.35 138.59L354.5 138.43L354.75 139.31L355 139.94L355.25 140.02L355.5 139.98L355.75 140.22L356 140.11L356.25 139.94L356.5 140.3L356.75 139.99L357 140.24L357.25 140.01L357.5 140.12L357.75 140.15L358 140.05L358.25 140.17L358.5 140.34L358.75 140.07L359 140.19L359.25 140.32L359.5 140.01L359.75 140.3L360 140.32L360.25 140.2L360.5 139.97L360.75 140.06L361 140.04L361.25 140.15L361.5 140.03L361.75 140.32L362 140.34L362.25 139.98L362.5 140.28L362.75 140.12L363 140.16L363.25 140.13L363.5 140.09L363.75 140.15L364 140.18L364.25 140.08L364.5 140.04L364.75 140.1L365 140.02L365.25 140.2L365.5 140.17L365.75 140.24L366 140.21L366.25 140.2L366.5 140.04L366.75 140.12L367 139.99L367.25 140.27L367.5 140.32L367.75 140.21L368 140.15L368.25 140.08L368.5 140.17L368.75 140.26L369 140.15L369.25 140.18L369.5 139.98L369.75 140.04L370 140.17L370.25 140.3L370.5 140.06L370.75 140.15L371 140.08L371.25 140L371.5 140.07L371.75 140.22L372 140.1L372.25 140.13L372.5 140.16L372.75 140.19L373 140.2L373.25 140.23L373.5 140.31L373.75 140.21L374 140.18L374.25 140.31L374.5 140.13L374.75 140.16L375 139.98L375.25 140.2L375.5 140.18L375.75 140.32L376 139.98L376.25 140.05L376.5 140.25L376.75 140.26L377 140.22L377.25 140.04L377.5 140.32L377.75 140.17L378 140.29L378.25 140.28L378.5 140.22L378.75 140.15L379 140.21L379.25 140L379.5 140.25L379.75 140.32L380 140.19L380.25 140.21L380.5 140.25L380.75 140.22L381 140.01L381.25 140.28L381.5 140.27L381.75 140.04L382 140.17L382.25 139.99L382.5 140.05L382.75 140.1L383 140.15L383.25 140.26L383.5 140.33L383.75 140.25L384 140.08L384.25 140.08L384.5 139.99L384.75 140.17L385 140.1L385.25 140.17L385.5 140.12L385.75 140.21L386 140.25L386.25 140.12L386.5 140.15L386.75 140.22L387 140.03L387.25 140.2L387.5 139.99L387.75 140.07L388 140.13L388.25 140.15L388.5 140.1L388.75 140.3L389 140.06L389.25 140.27L389.5 140.24L389.75 140.03L390 140.06L390.25 140.23L390.5 140.17L390.75 140.19L391 140.29L391.25 140.01L391.5 140.02L391.75 140.34L392 140.07L392.25 140.19L392.5 140.06L392.75 139.99L393 140.27L393.25 140.24L393.5 140.06L393.75 139.98L394 140.24L394.25 140.05L394.5 140.24L394.75 140.03L395 140.32L395.25 139.97L395.5 140.04L395.75 139.98L396 140.11L396.25 140.1L396.5 139.55L396.75 138.96L397 137.89L397.25 136.96L397.5 137.81L397.75 139.03L398 139.62L398.25 140.14L398.5 140.19L398.75 140.08L399 139.99L399.25 139.96L399.5 140.27L399.75 140.16L400 140.14L400.25 140.1L400.5 139.94L400.75 140.01L401 139.97L401.25 140.3L401.5 140.32L401.75 140.11L402 140.19L402.25 140.18L402.5 140.33L402.75 140.34L403 140L403.25 140.32L403.5 140.19L403.75 140.09L404 140.26L404.25 139.96L404.5 140.27L404.75 140.3L405 139.98L405.25 140.05L405.5 140.34L405.75 140.33L406 140.2L406.25 140.33L406.5 139.98L406.75 140.11L407 140.29L407.25 139.97L407.5 140.08L407.75 140.01L408 140.18L408.25 140.34L408.5 140.15L408.75 140.28L409 139.98L409.25 140.12L409.5 140.34" fill="none" stroke="#33f233" stroke-width="1.5" stroke-linejoin="round"/>
<path d="M41.5 113.89L41.75 113.6L42 113.56L42.25 113.61L42.5 113.87L42.75 113.55L43 113.6L43.25 113.63L43.5 113.68L43.75 113.81L44 113.71L44.25 113.82L44.5 113.69L44.75 113.83L45 113.64L45.25 113.74L45.5 113.65L45.75 113.66L46 113.57L46.25 113.84L46.5 113.64L46.75 113.88L47 113.76L47.25 113.54L47.5 113.86L47.75 113.84L48 113.74L48.25 113.61L48.5 113.84L48.75 113.61L49 113.86L49.25 113.85L49.5 113.53L49.75 113.63L50 113.89L50.25 113.82L50.5 113.59L50.75 113.67L51 113.86L51.25 113.5L51.5 113.56L51.75 113.78L52 113.65L52.25 113.76L52.5 113.66L52.75 113.7L53 113.76L53.25 113.79L53.5 113.54L53.75 113.73L54 113.88L54.25 113.88L54.5 113.53L54.75 113.7L55 113.57L55.25 113.88L55.5 113.59L55.75 113.84L56 113.64L56.25 113.84L56.5 113.5L56.75 113.67L57 113.68L57.25 113.59L57.5 113.48L57.75 113.46L58 112.51L58.25 111.62L58.5 110.69L58.55 110.63L58.75 111.06L59 112.21L59.25 113.13L59.5 113.4L59.75 113.51L60 113.65L60.25 113.48L60.5 113.46L60.75 113.74L61 113.86L61.25 113.76L61.5 113.52L61.75 113.53L62 113.51L62.25 113.73L62.5 113.79L62.75 113.68L63 113.51L63.25 113.87L63.5 113.81L63.75 113.56L64 113.84L64.25 113.87L64.5 113.62L64.75 113.72L65 113.5L65.25 113.64L65.5 113.58L65.75 113.87L66 113.79L66.25 113.6L66.5 113.79L66.75 113.55L67 113.52L67.25 113.66L67.5 113.83L67.75 113.87L68 113.62L68.25 113.61L68.5 113.68L68.75 113.65L69 113.78L69.25 113.69L69.5 113.6L69.75 113.61L70 113.72L70.25 113.53L70.5 113.57L70.75 113.57L71 113.58L71.25 113.52L71.5 113.71L71.75 113.75L72 113.62L72.25 113.87L72.5 113.62L72.75 113.7L73 113.76L73.25 113.75L73.5 113.87L73.75 113.52L74 113.53L74.25 113.53L74.5 113.54L74.75 113.65L75 113.72L75.25 113.81L75.5 113.84L75.75 113.74L76 113.71L76.25 113.68L76.5 113.59L76.75 113.59L77 113.64L77.25 113.55L77.5 113.75L77.75 113.6L78 113.88L78.25 113.63L78.5 113.8L78.75 113.6L79 113.59L79.25 113.67L79.5 113.71L79.75 113.88L80 113.56L80.25 113.51L80.5 113.53L80.75 113.84L81 113.52L81.25 113.87L81.5 113.57L81.75 113.86L82 113.63L82.25 113.86L82.5 113.68L82.75 113.64L83 113.49L83.25 113.64L83.5 113.66L83.75 113.85L84 113.68L84.25 113.82L84.5 113.66L84.75 113.73L85 113.72L85.25 113.52L85.5 113.71L85.75 113.76L86 113.64L86.25 113.54L86.5 113.53L86.75 113.63L87 113.85L87.25 113.65L87.5 113.55L87.75 113.65L88 113.75L88.25 113.79L88.5 113.5L88.75 113.63L89 113.46L89.25 113.56L89.5 113.62L89.75 113.5L90 113.47L90.25 113.73L90.5 113.49L90.75 113.7L91 113.44L91.25 113.44L91.5 113.43L91.75 113.66L92 113.34L92.25 113.35L92.5 113.47L92.75 113.33L93 113.41L93.25 112.99L93.5 112.38L93.75 110.84L94 105.84L94.25 98.11L94.5 93.38L94.75 98.25L95 105.94L95.25 110.58L95.5 112.4L95.75 112.79L96 113.27L96.25 113L96.5 113.12L96.75 113.03L97 113.09L97.25 113.07L97.5 112.82L97.75 112.79L98 112.57L98.25 112.01L98.5 111.51L98.75 108.73L99 100L99.25 78.38L99.5 47.73L99.7 35.5L99.75 36.44L100 59.55L100.25 88.51L100.5 104.9L100.75 110.28L101 111.63L101.25 112.3L101.5 112.62L101.75 112.74L102 112.96L102.25 112.98L102.5 113.43L102.75 113.31L103 113.39L103.25 113.55L103.5 113.48L103.75 113.47L104 113.59L104.25 113.54L104.5 113.47L104.75 113.66L105 113.41L105.25 113.61L105.5 113.46L105.75 113.6L106 113.48L106.25 113.62L106.5 113.56L106.75 113.7L107 113.56L107.25 113.48L107.5 113.68L107.75 113.61L108 113.74L108.25 113.7L108.5 113.46L108.75 113.69L109 113.46L109.25 113.82L109.5 113.69L109.75 113.69L110 113.61L110.25 113.49L110.5 113.59L110.75 113.59L111 113.54L111.25 113.86L111.5 113.58L111.75 113.68L112 113.57L112.25 113.82L112.5 113.52L112.75 113.87L113 113.55L113.25 113.58L113.5 113.66L113.75 113.61L114 113.52L114.25 113.8L114.5 113.51L114.75 113.6L115 113.49L115.25 113.51L115.5 113.64L115.75 113.71L116 113.49L116.25 113.67L116.5 113.63L116.75 113.89L117 113.89L117.25 113.74L117.5 113.78L117.75 113.52L118 113.72L118.25 113.86L118.5 113.85L118.75 113.78L119 113.81L119.25 113.88L119.5 113.74L119.75 113.57L120 113.77L120.25 113.6L120.5 113.86L120.75 113.58L121 113.84L121.25 113.76L121.5 113.76L121.75 113.59L122 113.69L122.25 113.71L122.5 113.9L122.75 113.78L123 113.8L123.25 113.9L123.5 113.67L123.75 113.75L124 113.72L124.25 113.67L124.5 113.63L124.75 113.64L125 113.53L125.25 113.88L125.5 113.6L125.75 113.84L126 113.64L126.25 113.63L126.5 113.52L126.75 113.7L127 113.58L127.25 113.65L127.5 113.81L127.75 113.87L128 113.52L128.25 113.79L128.5 113.86L128.75 113.84L129 113.83L129.25 113.81L129.5 113.7L129.75 113.52L130 113.58L130.25 113.82L130.5 113.66L130.75 113.69L131 113.78L131.25 113.66L131.5 113.6L131.75 113.61L132 113.86L132.25 113.68L132.5 113.79L132.75 113.77L133 113.63L133.25 113.65L133.5 113.69L133.75 113.69L134 113.7L134.25 113.48L134.5 113.4L134.75 113.29L134.95 113.01L135 113.08L135.25 113.39L135.5 113.57L135.75 113.66L136 113.51L136.25 113.75L136.5 113.78L136.75 113.54L137 113.56L137.25 113.85L137.5 113.68L137.75 113.81L138 113.52L138.25 113.85L138.5 113.73L138.75 113.58L139 113.77L139.25 113.7L139.5 113.59L139.75 113.89L140 113.5L140.25 113.62L140.5 113.83L140.75 113.84L141 113.56L141.25 113.87L141.5 113.53L141.75 113.63L142 113.8L142.25 113.54L142.5 113.62L142.75 113.64L143 113.68L143.25 113.63L143.5 113.58L143.75 113.66L144 113.65L144.25 113.73L144.5 113.51L144.75 113.47L145 113.76L145.25 113.7L145.5 113.72L145.75 113.68L146 113.43L146.25 113.44L146.5 113.71L146.75 113.5L147 113.34L147.25 113.21L147.5 112L147.75 109.58L148 105.14L148.25 102.4L148.5 105.16L148.75 109.4L149 112.02L149.25 112.97L149.5 113.26L149.75 113.5L150 113.52L150.25 113.75L150.5 113.54L150.75 113.65L151 113.78L151.25 113.75L151.5 113.71L151.75 113.81L152 113.72L152.25 113.8L152.5 113.74L152.75 113.56L153 113.72L153.25 113.77L153.5 113.75L153.75 113.65L154 113.49L154.25 113.71L154.5 113.81L154.75 113.84L155 113.72L155.25 113.68L155.5 113.57L155.75 113.56L156 113.81L156.25 113.49L156.5 113.65L156.75 113.59L157 113.63L157.25 113.87L157.5 113.49L157.75 113.75L158 113.73L158.25 113.44L158.5 113.44L158.75 113.25L159 112.57L159.25 111.51L159.5 110.76L159.55 110.79L159.75 111.11L160 112.27L160.25 113.19L160.5 113.43L160.75 113.63L161 113.56L161.25 113.65L161.5 113.64L161.75 113.69L162 113.7L162.25 113.72L162.5 113.65L162.75 113.63L163 113.64L163.25 113.7L163.5 113.51L163.75 113.75L164 113.75L164.25 113.58L164.5 113.85L164.75 113.76L165 113.83L165.25 113.67L165.5 113.88L165.75 113.6L166 113.71L166.25 113.71L166.5 113.62L166.75 113.69L167 113.88L167.25 113.5L167.5 113.79L167.75 113.56L168 113.71L168.25 113.78L168.5 113.7L168.75 113.83L169 113.82L169.25 113.51L169.5 113.59L169.75 113.79L170 113.78L170.25 113.7L170.5 113.52L170.75 113.57L171 113.62L171.25 113.7L171.5 113.79L171.75 113.6L172 113.75L172.25 113.75L172.5 113.64L172.75 113.84L173 113.59L173.25 113.8L173.5 113.59L173.75 113.8L174 113.67L174.25 113.62L174.5 113.81L174.75 113.62L175 113.77L175.25 113.58L175.5 113.2L175.75 112.93L176 112.6L176.05 112.56L176.25 112.66L176.5 113.28L176.75 113.52L177 113.71L177.25 113.61L177.5 113.49L177.75 113.83L178 113.79L178.25 113.83L178.5 113.66L178.75 113.6L179 113.87L179.25 113.53L179.5 113.71L179.75 113.54L180 113.62L180.25 113.87L180.5 113.85L180.75 113.7L181 113.53L181.25 113.7L181.5 113.86L181.75 113.84L182 113.52L182.25 113.6L182.5 113.69L182.75 113.52L183 113.65L183.25 113.72L183.5 113.6L183.75 113.8L184 113.87L184.25 113.6L184.5 113.7L184.75 113.78L185 113.56L185.25 113.7L185.5 113.72L185.75 113.82L186 113.72L186.25 113.84L186.5 113.77L186.75 113.54L187 113.78L187.25 113.67L187.5 113.69L187.75 113.66L188 113.69L188.25 113.61L188.5 113.6L188.75 113.74L189 113.39L189.25 113.16L189.5 112.3L189.75 110.59L190 109.38L190.05 109.49L190.25 110.35L190.5 111.81L190.75 112.86L191 113.25L191.25 113.49L191.5 113.8L191.75 113.56L192 113.79L192.25 113.7L192.5 113.51L192.75 113.84L193 113.65L193.25 113.49L193.5 113.84L193.75 113.73L194 113.52L194.25 113.65L194.5 113.66L194.75 113.58L195 113.74L195.25 113.83L195.5 113.75L195.75 113.57L196 113.88L196.25 113.74L196.5 113.55L196.75 113.83L197 113.87L197.25 113.82L197.5 113.88L197.75 113.7L198 113.51L198.25 113.85L198.5 113.76L198.75 113.89L199 113.88L199.25 113.75L199.5 113.53L199.75 113.84L200 113.52L200.25 113.65L200.5 113.65L200.75 113.54L201 113.6L201.25 113.75L201.5 113.52L201.75 113.72L202 113.51L202.25 113.47L202.5 113.74L202.75 113.38L203 112.98L203.25 112.27L203.5 110.29L203.75 108.36L203.85 108.29L204 108.53L204.25 110.75L204.5 112.61L204.75 113.16L205 113.56L205.25 113.5L205.5 113.79L205.75 113.45L206 113.52L206.25 113.75L206.5 113.5L206.75 113.73L207 113.61L207.25 113.74L207.5 113.74L207.75 113.76L208 113.86L208.25 113.55L208.5 113.51L208.75 113.61L209 113.51L209.25 113.64L209.5 113.88L209.75 113.58L210 113.64L210.25 113.51L210.5 113.78L210.75 113.66L211 113.7L211.25 113.87L211.5 113.6L211.75 113.75L212 113.59L212.25 113.87L212.5 113.89L212.75 113.64L213 113.87L213.25 113.56L213.5 113.51L213.75 113.65L214 113.62L214.25 113.57L214.5 113.62L214.75 113.58L215 113.63L215.25 113.78L215.5 113.58L215.75 113.72L216 113.83L216.25 113.69L216.5 113.52L216.75 113.58L217 113.53L217.25 113.59L217.5 113.75L217.75 113.72L218 113.56L218.25 113.18L218.5 112.87L218.75 112.28L218.95 111.78L219 111.84L219.25 112.41L219.5 113.08L219.75 113.66L220 113.44L220.25 113.62L220.5 113.84L220.75 113.52L221 113.85L221.25 113.71L221.5 113.67L221.75 113.86L222 113.88L222.25 113.55L222.5 113.58L222.75 113.52L223 113.63L223.25 113.71L223.5 113.63L223.75 113.76L224 113.51L224.25 113.51L224.5 113.67L224.75 113.62L225 113.66L225.25 113.75L225.5 113.72L225.75 113.52L226 113.53L226.25 113.51L226.5 113.8L226.75 113.87L227 113.83L227.25 113.68L227.5 113.8L227.75 113.73L228 113.53L228.25 113.53L228.5 113.8L228.75 113.7L229 113.75L229.25 113.65L229.5 113.6L229.75 113.58L230 113.69L230.25 113.68L230.5 113.71L230.75 113.68L231 113.79L231.25 113.52L231.5 113.85L231.75 113.57L232 113.65L232.25 113.59L232.5 113.49L232.75 113.51L233 113.48L233.25 113.68L233.5 113.53L233.75 113.73L234 113.69L234.25 113.81L234.5 113.54L234.75 113.54L235 113.68L235.25 113.65L235.5 113.44L235.75 112.75L236 111.27L236.25 109.48L236.35 109.5L236.5 109.95L236.75 111.63L237 112.77L237.25 113.29L237.5 113.38L237.75 113.48L238 113.47L238.25 113.62L238.5 113.51L238.75 113.79L239 113.52L239.25 113.71L239.5 113.59L239.75 113.59L240 113.55L240.25 113.64L240.5 113.78L240.75 113.68L241 113.66L241.25 113.55L241.5 113.59L241.75 113.8L242 113.49L242.25 113.72L242.5 113.77L242.75 113.66L243 113.57L243.25 113.52L243.5 113.69L243.75 113.66L244 113.44L244.25 113.47L244.5 113.62L244.75 113.24L245 113.41L245.25 112.74L245.5 110.72L245.75 106.86L246 101.65L246.15 100.56L246.25 101.05L246.5 105.49L246.75 110.14L247 112.33L247.25 113.28L247.5 113.57L247.75 113.3L248 113.41L248.25 113.54L248.5 113.62L248.75 113.58L249 113.69L249.25 113.83L249.5 113.49L249.75 113.51L250 113.64L250.25 113.71L250.5 113.76L250.75 113.66L251 113.81L251.25 113.85L251.5 113.81L251.75 113.6L252 113.84L252.25 113.67L252.5 113.75L252.75 113.75L253 113.4L253.25 113.73L253.5 113.43L253.75 112.67L254 111.27L254.25 109.72L254.35 109.62L254.5 109.92L254.75 111.44L255 112.77L255.25 113.34L255.5 113.68L255.75 113.58L256 113.49L256.25 113.75L256.5 113.74L256.75 113.83L257 113.73L257.25 113.47L257.5 113.52L257.75 113.86L258 113.75L258.25 113.65L258.5 113.84L258.75 113.52L259 113.81L259.25 113.57L259.5 113.49L259.75 113.82L260 113.82L260.25 113.48L260.5 113.75L260.75 113.85L261 113.81L261.25 113.64L261.5 113.61L261.75 113.29L262 112.8L262.15 112.86L262.25 112.61L262.5 112.97L262.75 113.39L263 113.75L263.25 113.5L263.5 113.6L263.75 113.68L264 113.88L264.25 113.69L264.5 113.88L264.75 113.53L265 113.64L265.25 113.55L265.5 113.56L265.75 113.85L266 113.63L266.25 113.68L266.5 113.69L266.75 113.51L267 113.89L267.25 113.74L267.5 113.87L267.75 113.55L268 113.74L268.25 113.81L268.5 113.79L268.75 113.66L269 113.82L269.25 113.86L269.5 113.77L269.75 113.8L270 113.57L270.25 113.74L270.5 113.77L270.75 113.58L271 113.78L271.25 113.55L271.5 113.8L271.75 113.66L272 113.51L272.25 113.63L272.5 113.81L272.75 113.65L273 113.7L273.25 113.68L273.5 113.52L273.75 113.69L274 113.68L274.25 113.8L274.5 113.6L274.75 113.51L275 113.83L275.25 113.79L275.5 113.51L275.75 113.58L276 113.82L276.25 113.63L276.5 113.62L276.75 113.74L277 113.86L277.25 113.77L277.5 113.51L277.75 113.66L278 113.89L278.25 113.76L278.5 113.74L278.75 113.77L279 113.79L279.25 113.51L279.5 113.84L279.75 113.57L280 113.68L280.25 113.59L280.5 113.51L280.75 113.56L281 113.69L281.25 113.79L281.5 113.66L281.75 113.67L282 113.84L282.25 113.74L282.5 113.77L282.75 113.74L283 113.61L283.25 113.88L283.5 113.62L283.75 113.58L284 113.86L284.25 113.68L284.5 113.8L284.75 113.7L285 113.59L285.25 113.65L285.5 113.64L285.75 113.67L286 113.66L286.25 113.5L286.5 113.58L286.75 113.78L287 113.7L287.25 113.6L287.5 113.81L287.75 113.59L288 113.85L288.25 113.89L288.5 113.72L288.75 113.67L289 113.86L289.25 113.75L289.5 113.52L289.75 113.72L290 113.84L290.25 113.8L290.5 113.81L290.75 113.61L291 113.85L291.25 113.8L291.5 113.64L291.75 113.81L292 113.66L292.25 113.58L292.5 113.73L292.75 113.81L293 113.79L293.25 113.8L293.5 113.85L293.75 113.73L294 113.66L294.25 113.14L294.5 112.71L294.65 112.64L294.75 112.69L295 113.04L295.25 113.43L295.5 113.44L295.75 113.69L296 113.71L296.25 113.62L296.5 113.59L296.75 113.88L297 113.81L297.25 113.82L297.5 113.78L297.75 113.53L298 113.61L298.25 113.79L298.5 113.81L298.75 113.57L299 113.74L299.25 113.8L299.5 113.83L299.75 113.54L300 113.81L300.25 113.73L300.5 113.88L300.75 113.52L301 113.79L301.25 113.88L301.5 113.83L301.75 113.59L302 113.67L302.25 113.88L302.5 113.73L302.75 113.68L303 113.66L303.25 113.69L303.5 113.53L303.75 113.65L304 113.86L304.25 113.84L304.5 113.57L304.75 113.77L305 113.86L305.25 113.58L305.5 113.63L305.75 113.72L306 113.61L306.25 113.77L306.5 113.81L306.75 113.65L307 113.84L307.25 113.9L307.5 113.58L307.75 113.77L308 113.55L308.25 113.78L308.5 113.52L308.75 113.65L309 113.8L309.25 113.76L309.5 113.66L309.75 113.56L310 113.82L310.25 113.73L310.5 113.58L310.75 113.84L311 113.79L311.25 113.77L311.5 113.67L311.75 113.8L312 113.55L312.25 113.59L312.5 113.77L312.75 113.67L313 113.62L313.25 113.5L313.5 113.58L313.75 113.8L314 113.52L314.25 113.75L314.5 113.66L314.75 113.66L315 113.64L315.25 113.88L315.5 113.88L315.75 113.69L316 113.82L316.25 113.7L316.5 113.83L316.75 113.88L317 113.63L317.25 113.73L317.5 113.61L317.75 113.79L318 113.6L318.25 113.83L318.5 113.87L318.75 113.56L319 113.76L319.25 113.51L319.5 113.5L319.75 113.53L320 113.69L320.25 113.83L320.5 113.53L320.75 113.85L321 113.67L321.25 113.57L321.5 113.75L321.75 113.81L322 113.67L322.25 113.66L322.5 113.82L322.75 113.83L323 113.52L323.25 113.7L323.5 113.82L323.75 113.76L324 113.35L324.25 113.31L324.5 112.26L324.75 111.08L324.95 110.35L325 110.63L325.25 111.52L325.5 112.53L325.75 113.33L326 113.37L326.25 113.71L326.5 113.68L326.75 113.57L327 113.69L327.25 113.83L327.5 113.57L327.75 113.66L328 113.61L328.25 113.82L328.5 113.56L328.75 113.88L329 113.75L329.25 113.89L329.5 113.6L329.75 113.64L330 113.59L330.25 113.79L330.5 113.53L330.75 113.53L331 113.83L331.25 113.82L331.5 113.84L331.75 113.75L332 113.6L332.25 113.6L332.5 113.82L332.75 113.57L333 113.58L333.25 113.82L333.5 113.84L333.75 113.59L334 113.58L334.25 113.88L334.5 113.59L334.75 113.76L335 113.87L335.25 113.53L335.5 113.56L335.75 113.72L336 113.58L336.25 113.89L336.5 113.69L336.75 113.86L337 113.77L337.25 113.6L337.5 113.58L337.75 113.7L338 113.67L338.25 113.86L338.5 113.58L338.75 113.6L339 113.6L339.25 113.76L339.5 113.71L339.75 113.61L340 113.23L340.25 112.83L340.5 111.87L340.75 111.42L341 111.79L341.25 112.7L341.5 113.49L341.75 113.38L342 113.8L342.25 113.76L342.5 113.78L342.75 113.65L343 113.59L343.25 113.61L343.5 113.73L343.75 113.55L344 113.86L344.25 113.84L344.5 113.64L344.75 113.82L345 113.84L345.25 113.85L345.5 113.88L345.75 113.5L346 113.83L346.25 113.83L346.5 113.87L346.75 113.77L347 113.57L347.25 113.75L347.5 113.73L347.75 113.59L348 113.56L348.25 113.82L348.5 113.76L348.75 113.56L349 113.66L349.25 113.63L349.5 113.89L349.75 113.76L350 113.6L350.25 113.6L350.5 113.85L350.75 113.72L351 113.71L351.25 113.7L351.5 113.56L351.75 113.49L352 113.67L352.25 113.51L352.5 113.64L352.75 113.16L353 112.74L353.15 112.87L353.25 112.81L353.5 113.21L353.75 113.54L354 113.69L354.25 113.78L354.5 113.62L354.75 113.7L355 113.6L355.25 113.83L355.5 113.66L355.75 113.65L356 113.76L356.25 113.51L356.5 113.5L356.75 113.85L357 113.56L357.25 113.74L357.5 113.66L357.75 113.68L358 113.59L358.25 113.75L358.5 113.51L358.75 113.59L359 113.82L359.25 113.79L359.5 113.72L359.75 113.6L360 113.5L360.25 113.55L360.5 113.88L360.75 113.89L361 113.64L361.25 113.77L361.5 113.67L361.75 113.83L362 113.67L362.25 113.85L362.5 113.51L362.75 113.81L363 113.65L363.25 113.89L363.5 113.58L363.75 113.55L364 113.74L364.25 113.69L364.5 113.57L364.75 113.56L365 113.66L365.25 113.81L365.5 113.73L365.75 113.77L366 113.58L366.25 113.74L366.5 113.5L366.75 113.5L367 113.52L367.25 113.54L367.5 113.85L367.75 113.87L368 113.72L368.25 113.62L368.5 113.65L368.75 113.81L369 113.74L369.25 113.69L369.5 113.76L369.75 113.71L370 113.88L370.25 113.57L370.5 113.8L370.75 113.52L371 113.87L371.25 113.83L371.5 113.87L371.75 113.57L372 113.78L372.25 113.62L372.5 113.68L372.75 113.78L373 113.66L373.25 113.89L373.5 113.54L373.75 113.65L374 113.56L374.25 113.87L374.5 113.74L374.75 113.76L375 113.69L375.25 113.63L375.5 113.5L375.75 113.66L376 113.65L376.25 113.68L376.5 113.76L376.75 113.6L377 113.58L377.25 113.55L377.5 113.81L377.75 113.9L378 113.57L378.25 113.6L378.5 113.57L378.75 113.66L379 113.72L379.25 113.86L379.5 113.57L379.75 113.61L380 113.86L380.25 113.55L380.5 113.87L380.75 113.88L381 113.82L381.25 113.58L381.5 113.72L381.75 113.81L382 113.7L382.25 113.6L382.5 113.75L382.75 113.8L383 113.77L383.25 113.57L383.5 113.53L383.75 113.62L384 113.78L384.25 113.7L384.5 113.89L384.75 113.61L385 113.83L385.25 113.52L385.5 113.59L385.75 113.52L386 113.78L386.25 113.88L386.5 113.64L386.75 113.61L387 113.54L387.25 113.59L387.5 113.64L387.75 113.55L388 113.73L388.25 113.66L388.5 113.52L388.75 113.78L389 113.67L389.25 113.66L389.5 113.84L389.75 113.62L390 113.82L390.25 113.55L390.5 113.87L390.75 113.53L391 113.84L391.25 113.89L391.5 113.63L391.75 113.72L392 113.75L392.25 113.83L392.5 113.6L392.75 113.77L393 113.66L393.25 113.49L393.5 113.75L393.75 113.84L394 113.65L394.25 113.62L394.5 113.67L394.75 113.82L395 113.64L395.25 113.57L395.5 113.1L395.75 111.76L396 110.76L396.15 110.59L396.25 110.6L396.5 111.57L396.75 112.86L397 113.58L397.25 113.54L397.5 113.54L397.75 113.83L398 113.75L398.25 113.61L398.5 113.64L398.75 113.5L399 113.52L399.25 113.82L399.5 113.8L399.75 113.76L400 113.88L400.25 113.63L400.5 113.87L400.75 113.78L401 113.5L401.25 113.69L401.5 113.8L401.75 113.71L402 113.61L402.25 113.88L402.5 113.68L402.75 113.64L403 113.72L403.25 113.62L403.5 113.63L403.75 113.77L404 113.51L404.25 113.55L404.5 113.57L404.75 113.62L405 113.68L405.25 113.54L405.5 113.86L405.75 113.53L406 113.53L406.25 113.79L406.5 113.64L406.75 113.6L407 113.73L407.25 113.5L407.5 113.59L407.75 113.69L408 113.89L408.25 113.67L408.5 113.79L408.75 113.75L409 113.53L409.25 113.74L409.5 113.82" fill="none" stroke="#932a2a" stroke-width="1.5" stroke-linejoin="round"/>
<rect x="41.5" y="2.5" width="368" height="273" fill="none" stroke="#333" stroke-width="1.2"/>
<line x1="58.6" y1="275.5" x2="58.6" y2="280.5" stroke="#333" stroke-width="1.2"/>
<line x1="117.08" y1="275.5" x2="117.08" y2="280.5" stroke="#333" stroke-width="1.2"/>
<line x1="175.56" y1="275.5" x2="175.56" y2="280.5" stroke="#333" stroke-width="1.2"/>
<line x1="234.04" y1="275.5" x2="234.04" y2="280.5" stroke="#333" stroke-width="1.2"/>
<line x1="292.52" y1="275.5" x2="292.52" y2="280.5" stroke="#333" stroke-width="1.2"/>
<line x1="351" y1="275.5" x2="351" y2="280.5" stroke="#333" stroke-width="1.2"/>
<line x1="409.48" y1="275.5" x2="409.48" y2="280.5" stroke="#333" stroke-width="1.2"/>
<line x1="565.8" y1="53.5" x2="587" y2="207.4" stroke="#c4c4c4" stroke-width="1"/>
<line x1="626.3" y1="20.7" x2="608.8" y2="202" stroke="#999" stroke-width="1" stroke-dasharray="1 1.3"/>
<path d="M485.1 267.6L485.6 267.6L486.1 267.6L486.6 267.6L487.1 267.59L487.6 267.59L488.1 267.59L488.6 267.59L489.1 267.58L489.6 267.58L490.1 267.58L490.6 267.57L491.1 267.57L491.6 267.57L492.1 267.56L492.6 267.56L493.1 267.55L493.6 267.55L494.1 267.54L494.6 267.53L495.1 267.53L495.6 267.52L496.1 267.52L496.6 267.51L497.1 267.5L497.6 267.5L498.1 267.49L498.6 267.48L499.1 267.47L499.6 267.47L500.1 267.46L500.6 267.45L501.1 267.44L501.6 267.44L502.1 267.43L502.6 267.42L503.1 267.41L503.6 267.4L504.1 267.39L504.6 267.39L505.1 267.38L505.6 267.37L506.1 267.36L506.6 267.35L507.1 267.34L507.6 267.33L508.1 267.32L508.6 267.31L509.1 267.31L509.6 267.3L510.1 267.29L510.6 267.27L511.1 267.26L511.6 267.25L512.1 267.23L512.6 267.21L513.1 267.19L513.6 267.17L514.1 267.16L514.6 267.14L515.1 267.11L515.6 267.09L516.1 267.07L516.6 267.05L517.1 267.03L517.6 267.01L518.1 266.99L518.6 266.97L519.1 266.95L519.6 266.93L520.1 266.91L520.6 266.89L521.1 266.88L521.6 266.86L522.1 266.85L522.6 266.84L523.1 266.83L523.6 266.82L524.1 266.81L524.6 266.8L525.1 266.8L525.6 266.8L526.1 266.8L526.6 266.8L527.1 266.81L527.6 266.82L528.1 266.82L528.6 266.83L529.1 266.84L529.6 266.86L530.1 266.87L530.6 266.88L531.1 266.9L531.6 266.91L532.1 266.93L532.6 266.94L533.1 266.96L533.6 266.97L534.1 266.99L534.6 267L535.1 267.02L535.6 267.03L536.1 267.04L536.6 267.05L537.1 267.07L537.6 267.07L538.1 267.08L538.6 267.09L539.1 267.1L539.6 267.1L540.1 267.1L540.6 267.09L541.1 267.06L541.6 267.02L542.1 266.96L542.6 266.88L543.1 266.81L543.6 266.73L544.1 266.65L544.6 266.57L545.1 266.51L545.6 266.45L546.1 266.42L546.6 266.4L547.1 266.4L547.6 266.41L548.1 266.43L548.6 266.46L549.1 266.49L549.6 266.53L550.1 266.57L550.6 266.62L551.1 266.67L551.6 266.72L552.1 266.77L552.6 266.82L553.1 266.87L553.6 266.92L554.1 266.97L554.6 267.02L555.1 267.06L555.6 267.1L556.1 267.13L556.6 267.16L557.1 267.18L557.6 267.2L558.1 267.2L558.6 267.2L559.1 267.2L559.6 267.19L560.1 267.19L560.6 267.18L561.1 267.17L561.6 267.16L562.1 267.15L562.6 267.14L563.1 267.13L563.6 267.11L564.1 267.1L564.6 267.08L565.1 267.06L565.6 267.04L566.1 267.02L566.6 267L567.1 266.98L567.6 266.96L568.1 266.94L568.6 266.91L569.1 266.89L569.6 266.86L570.1 266.84L570.6 266.81L571.1 266.78L571.6 266.75L572.1 266.73L572.6 266.7L573.1 266.67L573.6 266.64L574.1 266.61L574.6 266.58L575.1 266.55L575.6 266.51L576.1 266.46L576.6 266.41L577.1 266.36L577.6 266.31L578.1 266.25L578.6 266.19L579.1 266.12L579.6 266.06L580.1 265.99L580.6 265.92L581.1 265.85L581.6 265.78L582.1 265.71L582.6 265.63L583.1 265.56L583.6 265.49L584.1 265.42L584.6 265.35L585.1 265.28L585.6 265.21L586.1 265.15L586.6 265.08L587.1 265.02L587.6 264.95L588.1 264.88L588.6 264.81L589.1 264.74L589.6 264.66L590.1 264.58L590.6 264.5L591.1 264.4L591.6 264.31L592.1 264.21L592.6 264.1L593.1 264L593.6 263.89L594.1 263.79L594.6 263.68L595.1 263.58L595.6 263.48L596.1 263.39L596.6 263.31L597.1 263.23L597.6 263.14L598.1 263.05L598.6 262.96L599.1 262.85L599.6 262.74L600.1 262.61L600.6 262.46L601.1 262.3L601.6 262.09L602.1 261.86L602.6 261.58L603.1 261.26L603.6 260.91L604.1 260.52L604.6 260.08L605.1 259.61L605.6 259.1L606.1 258.49L606.6 257.73L607.1 256.81L607.6 255.72L608.1 254.45L608.6 252.97L609.1 250.77L609.6 247.89L610.1 244.7L610.6 241.49L611.1 237.82L611.6 233.98L612.1 230.49L612.6 227.64L613.1 224.96L613.6 222.63L614.1 220.94L614.6 219.83L615.1 218.87L615.6 218.15L616.1 217.81L616.6 217.97L617.1 218.6L617.6 219.55L618.1 220.7L618.6 222.55L619.1 225.35L619.6 228.61L620.1 231.83L620.6 235.29L621.1 239L621.6 242.65L622.1 246.06L622.6 249.67L623.1 253.07L623.6 255.59L624.1 256.9L624.6 257.71L625.1 257.71L625.6 257.24L626.1 256.46L626.6 255.5L627.1 254.18L627.6 252.1L628.1 249.61L628.6 247.08L629.1 244.61L629.6 241.89L630.1 239.09L630.6 236.36L631.1 233.88L631.6 231.82L632.1 229.95L632.6 228.16L633.1 226.54L633.6 225.13L634.1 224.01L634.6 223.21L635.1 222.5L635.6 221.86L636.1 221.32L636.6 220.92L637.1 220.72L637.6 220.74L638.1 220.98L638.6 221.4L639.1 221.96L639.6 222.62L640.1 223.35L640.6 224.26L641.1 225.59L641.6 227.25L642.1 229.14L642.6 231.16L643.1 233.2L643.6 235.44L644.1 237.99L644.6 240.66L645.1 243.26L645.6 245.63L646.1 248.01L646.6 250.36L647.1 252.54L647.6 254.39L648.1 255.84L648.6 257.11L649.1 258.26L649.6 259.28L650.1 260.13L650.6 260.79L651.1 261.27L651.6 261.68L652.1 262.04L652.6 262.36L653.1 262.64L653.6 262.9L654.1 263.12L654.6 263.34L655.1 263.54L655.6 263.74L656.1 263.93L656.6 264.11L657.1 264.29L657.6 264.45L658.1 264.6L658.6 264.73L659.1 264.84L659.6 264.94L660.1 265.01L660.6 265.08L661.1 265.14L661.6 265.19L662.1 265.25L662.6 265.3L663.1 265.34L663.6 265.39L664.1 265.43L664.6 265.46L665.1 265.5L665.6 265.54L666.1 265.57L666.6 265.6L667.1 265.63L667.6 265.66L668.1 265.69L668.6 265.72L669.1 265.75L669.6 265.78L670.1 265.81L670.6 265.84L671.1 265.86L671.6 265.89L672.1 265.92L672.6 265.95L673.1 265.98L673.6 266L674.1 266.03L674.6 266.06L675.1 266.08L675.6 266.11L676.1 266.13L676.6 266.16L677.1 266.18L677.6 266.21L678.1 266.23L678.6 266.25L679.1 266.27L679.6 266.3L680.1 266.32L680.6 266.34L681.1 266.36L681.6 266.38L682.1 266.4L682.6 266.42L683.1 266.43L683.6 266.45L684.1 266.47L684.6 266.49L685.1 266.5L685.6 266.52L686.1 266.54L686.6 266.55L687.1 266.57L687.6 266.58L688.1 266.6L688.6 266.61L689.1 266.63L689.6 266.64L690.1 266.66L690.6 266.67L691.1 266.69L691.6 266.7L692.1 266.71L692.6 266.73L693.1 266.74L693.6 266.75L694.1 266.77L694.6 266.78L695.1 266.79L695.6 266.8L696.1 266.81L696.6 266.82L697.1 266.83L697.6 266.84L698.1 266.85L698.6 266.86L699.1 266.87L699.6 266.88L700.1 266.89L700.6 266.89" fill="none" stroke="#f522f5" stroke-width="1.45" stroke-linejoin="round"/>
<path d="M485.1 214.6L485.6 214.58L486.1 214.57L486.6 214.55L487.1 214.54L487.6 214.52L488.1 214.51L488.6 214.5L489.1 214.48L489.6 214.47L490.1 214.45L490.6 214.44L491.1 214.43L491.6 214.41L492.1 214.4L492.6 214.39L493.1 214.37L493.6 214.36L494.1 214.35L494.6 214.33L495.1 214.32L495.6 214.31L496.1 214.29L496.6 214.28L497.1 214.27L497.6 214.26L498.1 214.24L498.6 214.23L499.1 214.22L499.6 214.21L500.1 214.2L500.6 214.19L501.1 214.17L501.6 214.16L502.1 214.15L502.6 214.14L503.1 214.12L503.6 214.11L504.1 214.1L504.6 214.08L505.1 214.07L505.6 214.06L506.1 214.04L506.6 214.03L507.1 214.02L507.6 214L508.1 213.99L508.6 213.98L509.1 213.96L509.6 213.95L510.1 213.94L510.6 213.93L511.1 213.92L511.6 213.91L512.1 213.89L512.6 213.88L513.1 213.87L513.6 213.86L514.1 213.86L514.6 213.85L515.1 213.84L515.6 213.83L516.1 213.83L516.6 213.82L517.1 213.81L517.6 213.81L518.1 213.81L518.6 213.8L519.1 213.8L519.6 213.8L520.1 213.8L520.6 213.8L521.1 213.8L521.6 213.8L522.1 213.8L522.6 213.8L523.1 213.8L523.6 213.8L524.1 213.8L524.6 213.8L525.1 213.8L525.6 213.8L526.1 213.8L526.6 213.8L527.1 213.8L527.6 213.8L528.1 213.8L528.6 213.8L529.1 213.8L529.6 213.8L530.1 213.8L530.6 213.8L531.1 213.8L531.6 213.8L532.1 213.8L532.6 213.8L533.1 213.8L533.6 213.8L534.1 213.8L534.6 213.8L535.1 213.8L535.6 213.8L536.1 213.8L536.6 213.8L537.1 213.8L537.6 213.8L538.1 213.8L538.6 213.8L539.1 213.8L539.6 213.8L540.1 213.8L540.6 213.8L541.1 213.81L541.6 213.81L542.1 213.82L542.6 213.83L543.1 213.84L543.6 213.86L544.1 213.87L544.6 213.89L545.1 213.91L545.6 213.93L546.1 213.94L546.6 213.96L547.1 213.98L547.6 214L548.1 214.02L548.6 214.04L549.1 214.06L549.6 214.08L550.1 214.1L550.6 214.12L551.1 214.13L551.6 214.15L552.1 214.16L552.6 214.17L553.1 214.18L553.6 214.19L554.1 214.2L554.6 214.2L555.1 214.2L555.6 214.19L556.1 214.18L556.6 214.17L557.1 214.14L557.6 214.11L558.1 214.08L558.6 214.05L559.1 214.01L559.6 213.97L560.1 213.93L560.6 213.89L561.1 213.85L561.6 213.81L562.1 213.77L562.6 213.73L563.1 213.69L563.6 213.65L564.1 213.6L564.6 213.55L565.1 213.5L565.6 213.45L566.1 213.39L566.6 213.32L567.1 213.25L567.6 213.17L568.1 213.08L568.6 212.98L569.1 212.84L569.6 212.66L570.1 212.44L570.6 212.19L571.1 211.91L571.6 211.61L572.1 211.3L572.6 210.99L573.1 210.67L573.6 210.34L574.1 209.99L574.6 209.6L575.1 209.18L575.6 208.72L576.1 208.22L576.6 207.64L577.1 206.93L577.6 206.13L578.1 205.26L578.6 204.37L579.1 203.5L579.6 202.62L580.1 201.71L580.6 200.78L581.1 199.87L581.6 198.99L582.1 198.17L582.6 197.31L583.1 196.47L583.6 195.76L584.1 195.3L584.6 195.01L585.1 194.76L585.6 194.59L586.1 194.5L586.6 194.55L587.1 194.74L587.6 195.02L588.1 195.36L588.6 195.7L589.1 196.08L589.6 196.55L590.1 197.07L590.6 197.62L591.1 198.18L591.6 198.72L592.1 199.33L592.6 199.97L593.1 200.59L593.6 201.13L594.1 201.54L594.6 201.82L595.1 202.08L595.6 202.28L596.1 202.39L596.6 202.36L597.1 202.14L597.6 201.78L598.1 201.32L598.6 200.8L599.1 200.19L599.6 199.35L600.1 198.32L600.6 197.17L601.1 195.95L601.6 194.57L602.1 192.99L602.6 191.28L603.1 189.49L603.6 187.64L604.1 185.55L604.6 183.27L605.1 180.97L605.6 178.78L606.1 176.86L606.6 175.31L607.1 173.87L607.6 172.53L608.1 171.41L608.6 170.61L609.1 170.14L609.6 169.77L610.1 169.5L610.6 169.4L611.1 169.68L611.6 170.39L612.1 171.36L612.6 172.42L613.1 173.85L613.6 175.7L614.1 177.84L614.6 180.14L615.1 182.66L615.6 185.65L616.1 188.77L616.6 191.7L617.1 194.43L617.6 197.13L618.1 199.69L618.6 202.04L619.1 204.16L619.6 206.25L620.1 208.21L620.6 209.88L621.1 211.12L621.6 211.97L622.1 212.76L622.6 213.45L623.1 213.98L623.6 214.31L624.1 214.4L624.6 214.31L625.1 214.12L625.6 213.88L626.1 213.62L626.6 213.38L627.1 213.19L627.6 213.1L628.1 213.1L628.6 213.1L629.1 213.1L629.6 213.1L630.1 213.1L630.6 213.1L631.1 213.1L631.6 213.1L632.1 213.1L632.6 213.1L633.1 213.1L633.6 213.1L634.1 213.1L634.6 213.1L635.1 213.1L635.6 213.1L636.1 213.1L636.6 213.1L637.1 213.1L637.6 213.1L638.1 213.1L638.6 213.1L639.1 213.11L639.6 213.11L640.1 213.12L640.6 213.13L641.1 213.14L641.6 213.15L642.1 213.17L642.6 213.18L643.1 213.2L643.6 213.22L644.1 213.24L644.6 213.26L645.1 213.29L645.6 213.31L646.1 213.33L646.6 213.36L647.1 213.39L647.6 213.41L648.1 213.44L648.6 213.47L649.1 213.49L649.6 213.52L650.1 213.55L650.6 213.58L651.1 213.61L651.6 213.63L652.1 213.66L652.6 213.69L653.1 213.72L653.6 213.74L654.1 213.77L654.6 213.79L655.1 213.82L655.6 213.84L656.1 213.86L656.6 213.88L657.1 213.9L657.6 213.92L658.1 213.94L658.6 213.96L659.1 213.97L659.6 213.98L660.1 213.99L660.6 214L661.1 214.01L661.6 214.02L662.1 214.03L662.6 214.03L663.1 214.04L663.6 214.05L664.1 214.06L664.6 214.07L665.1 214.08L665.6 214.08L666.1 214.09L666.6 214.1L667.1 214.11L667.6 214.11L668.1 214.12L668.6 214.13L669.1 214.14L669.6 214.14L670.1 214.15L670.6 214.16L671.1 214.16L671.6 214.17L672.1 214.18L672.6 214.19L673.1 214.19L673.6 214.2L674.1 214.21L674.6 214.21L675.1 214.22L675.6 214.23L676.1 214.23L676.6 214.24L677.1 214.24L677.6 214.25L678.1 214.26L678.6 214.26L679.1 214.27L679.6 214.27L680.1 214.28L680.6 214.28L681.1 214.29L681.6 214.29L682.1 214.3L682.6 214.3L683.1 214.31L683.6 214.31L684.1 214.32L684.6 214.32L685.1 214.33L685.6 214.33L686.1 214.34L686.6 214.34L687.1 214.34L687.6 214.35L688.1 214.35L688.6 214.35L689.1 214.36L689.6 214.36L690.1 214.36L690.6 214.37L691.1 214.37L691.6 214.37L692.1 214.38L692.6 214.38L693.1 214.38L693.6 214.38L694.1 214.39L694.6 214.39L695.1 214.39L695.6 214.39L696.1 214.39L696.6 214.39L697.1 214.4L697.6 214.4L698.1 214.4L698.6 214.4L699.1 214.4L699.6 214.4L700.1 214.4L700.6 214.4" fill="none" stroke="#2222fa" stroke-width="1.45" stroke-linejoin="round"/>
<path d="M485.1 179.8L485.6 179.8L486.1 179.8L486.6 179.8L487.1 179.8L487.6 179.8L488.1 179.8L488.6 179.8L489.1 179.8L489.6 179.8L490.1 179.8L490.6 179.8L491.1 179.8L491.6 179.8L492.1 179.8L492.6 179.8L493.1 179.8L493.6 179.8L494.1 179.8L494.6 179.8L495.1 179.8L495.6 179.8L496.1 179.8L496.6 179.8L497.1 179.8L497.6 179.8L498.1 179.8L498.6 179.8L499.1 179.8L499.6 179.8L500.1 179.79L500.6 179.78L501.1 179.76L501.6 179.74L502.1 179.71L502.6 179.68L503.1 179.64L503.6 179.6L504.1 179.55L504.6 179.5L505.1 179.44L505.6 179.38L506.1 179.32L506.6 179.25L507.1 179.18L507.6 179.06L508.1 178.88L508.6 178.69L509.1 178.52L509.6 178.4L510.1 178.33L510.6 178.25L511.1 178.19L511.6 178.13L512.1 178.08L512.6 178.04L513.1 178.01L513.6 178L514.1 178L514.6 178.01L515.1 178.03L515.6 178.05L516.1 178.08L516.6 178.11L517.1 178.14L517.6 178.18L518.1 178.22L518.6 178.26L519.1 178.3L519.6 178.33L520.1 178.37L520.6 178.4L521.1 178.43L521.6 178.47L522.1 178.51L522.6 178.55L523.1 178.58L523.6 178.62L524.1 178.65L524.6 178.68L525.1 178.69L525.6 178.7L526.1 178.69L526.6 178.67L527.1 178.63L527.6 178.57L528.1 178.52L528.6 178.46L529.1 178.4L529.6 178.36L530.1 178.32L530.6 178.3L531.1 178.3L531.6 178.33L532.1 178.37L532.6 178.42L533.1 178.48L533.6 178.54L534.1 178.59L534.6 178.64L535.1 178.68L535.6 178.7L536.1 178.7L536.6 178.68L537.1 178.64L537.6 178.59L538.1 178.53L538.6 178.47L539.1 178.39L539.6 178.31L540.1 178.23L540.6 178.15L541.1 178.07L541.6 177.96L542.1 177.84L542.6 177.71L543.1 177.56L543.6 177.42L544.1 177.28L544.6 177.14L545.1 177.03L545.6 176.93L546.1 176.86L546.6 176.79L547.1 176.73L547.6 176.67L548.1 176.62L548.6 176.57L549.1 176.53L549.6 176.5L550.1 176.47L550.6 176.45L551.1 176.43L551.6 176.42L552.1 176.4L552.6 176.39L553.1 176.37L553.6 176.36L554.1 176.34L554.6 176.32L555.1 176.3L555.6 176.27L556.1 176.25L556.6 176.22L557.1 176.19L557.6 176.15L558.1 176.11L558.6 176.07L559.1 176.01L559.6 175.93L560.1 175.79L560.6 175.6L561.1 175.37L561.6 175.1L562.1 174.8L562.6 174.47L563.1 174.13L563.6 173.78L564.1 173.43L564.6 173.06L565.1 172.65L565.6 172.21L566.1 171.73L566.6 171.21L567.1 170.64L567.6 170.02L568.1 169.34L568.6 168.61L569.1 167.79L569.6 166.77L570.1 165.58L570.6 164.25L571.1 162.79L571.6 161.25L572.1 159.65L572.6 158.03L573.1 156.27L573.6 154.21L574.1 152L574.6 149.82L575.1 147.83L575.6 146.2L576.1 144.81L576.6 143.45L577.1 142.21L577.6 141.16L578.1 140.38L578.6 139.94L579.1 139.64L579.6 139.41L580.1 139.3L580.6 139.47L581.1 140.07L581.6 140.94L582.1 141.92L582.6 142.91L583.1 144.1L583.6 145.49L584.1 147.02L584.6 148.63L585.1 150.28L585.6 151.92L586.1 153.5L586.6 155.02L587.1 156.59L587.6 158.19L588.1 159.78L588.6 161.35L589.1 162.87L589.6 164.32L590.1 165.67L590.6 167.07L591.1 168.51L591.6 169.87L592.1 171.02L592.6 171.83L593.1 172.22L593.6 172.49L594.1 172.72L594.6 172.9L595.1 173.03L595.6 173.09L596.1 173.1L596.6 173.1L597.1 173.1L597.6 173.1L598.1 173.1L598.6 173.1L599.1 173.06L599.6 172.86L600.1 172.56L600.6 172.24L601.1 171.89L601.6 171.47L602.1 170.96L602.6 170.34L603.1 169.52L603.6 168.39L604.1 166.98L604.6 165.33L605.1 163.49L605.6 161.5L606.1 159L606.6 155.88L607.1 152.55L607.6 149.38L608.1 146.01L608.6 142.61L609.1 139.73L609.6 137.84L610.1 136.24L610.6 134.79L611.1 133.58L611.6 132.7L612.1 132.24L612.6 132.25L613.1 132.52L613.6 132.98L614.1 133.57L614.6 134.53L615.1 136.28L615.6 138.49L616.1 140.84L616.6 143.25L617.1 146L617.6 148.94L618.1 151.9L618.6 154.93L619.1 158.09L619.6 161.18L620.1 164.06L620.6 167.07L621.1 169.98L621.6 172.26L622.1 173.48L622.6 174.35L623.1 175.01L623.6 175.37L624.1 175.38L624.6 175.25L625.1 175.06L625.6 174.86L626.1 174.69L626.6 174.6L627.1 174.61L627.6 174.65L628.1 174.71L628.6 174.79L629.1 174.88L629.6 175L630.1 175.12L630.6 175.25L631.1 175.39L631.6 175.53L632.1 175.66L632.6 175.79L633.1 175.91L633.6 176.02L634.1 176.13L634.6 176.25L635.1 176.37L635.6 176.5L636.1 176.62L636.6 176.75L637.1 176.87L637.6 176.98L638.1 177.09L638.6 177.19L639.1 177.28L639.6 177.35L640.1 177.41L640.6 177.46L641.1 177.51L641.6 177.55L642.1 177.59L642.6 177.63L643.1 177.66L643.6 177.69L644.1 177.72L644.6 177.75L645.1 177.78L645.6 177.81L646.1 177.84L646.6 177.87L647.1 177.89L647.6 177.92L648.1 177.95L648.6 177.99L649.1 178.02L649.6 178.06L650.1 178.1L650.6 178.13L651.1 178.17L651.6 178.21L652.1 178.25L652.6 178.29L653.1 178.33L653.6 178.37L654.1 178.41L654.6 178.44L655.1 178.48L655.6 178.51L656.1 178.54L656.6 178.56L657.1 178.59L657.6 178.6L658.1 178.62L658.6 178.64L659.1 178.65L659.6 178.67L660.1 178.69L660.6 178.7L661.1 178.72L661.6 178.73L662.1 178.74L662.6 178.75L663.1 178.77L663.6 178.77L664.1 178.78L664.6 178.79L665.1 178.79L665.6 178.8L666.1 178.8L666.6 178.8L667.1 178.8L667.6 178.8L668.1 178.8L668.6 178.8L669.1 178.8L669.6 178.8L670.1 178.8L670.6 178.8L671.1 178.8L671.6 178.8L672.1 178.8L672.6 178.8L673.1 178.8L673.6 178.8L674.1 178.8L674.6 178.8L675.1 178.8L675.6 178.8L676.1 178.8L676.6 178.8L677.1 178.8L677.6 178.8L678.1 178.8L678.6 178.8L679.1 178.8L679.6 178.8L680.1 178.8L680.6 178.8L681.1 178.8L681.6 178.8L682.1 178.8L682.6 178.8L683.1 178.8L683.6 178.8L684.1 178.8L684.6 178.8L685.1 178.81L685.6 178.81L686.1 178.82L686.6 178.82L687.1 178.83L687.6 178.84L688.1 178.85L688.6 178.86L689.1 178.88L689.6 178.89L690.1 178.91L690.6 178.92L691.1 178.94L691.6 178.96L692.1 178.98L692.6 179L693.1 179.02L693.6 179.04L694.1 179.06L694.6 179.08L695.1 179.1L695.6 179.13L696.1 179.15L696.6 179.18L697.1 179.2L697.6 179.22L698.1 179.25L698.6 179.28L699.1 179.3L699.6 179.33L700.1 179.35L700.6 179.38" fill="none" stroke="#fa2222" stroke-width="1.45" stroke-linejoin="round"/>
<path d="M485.1 132.2L485.6 132.2L486.1 132.2L486.6 132.2L487.1 132.2L487.6 132.2L488.1 132.2L488.6 132.2L489.1 132.2L489.6 132.2L490.1 132.2L490.6 132.2L491.1 132.2L491.6 132.2L492.1 132.2L492.6 132.2L493.1 132.2L493.6 132.2L494.1 132.2L494.6 132.2L495.1 132.2L495.6 132.2L496.1 132.2L496.6 132.2L497.1 132.2L497.6 132.2L498.1 132.2L498.6 132.2L499.1 132.2L499.6 132.2L500.1 132.2L500.6 132.2L501.1 132.2L501.6 132.2L502.1 132.2L502.6 132.2L503.1 132.2L503.6 132.2L504.1 132.2L504.6 132.2L505.1 132.2L505.6 132.2L506.1 132.2L506.6 132.2L507.1 132.2L507.6 132.2L508.1 132.2L508.6 132.2L509.1 132.2L509.6 132.2L510.1 132.2L510.6 132.2L511.1 132.2L511.6 132.2L512.1 132.2L512.6 132.2L513.1 132.2L513.6 132.2L514.1 132.2L514.6 132.2L515.1 132.2L515.6 132.2L516.1 132.2L516.6 132.2L517.1 132.2L517.6 132.2L518.1 132.2L518.6 132.2L519.1 132.2L519.6 132.2L520.1 132.2L520.6 132.2L521.1 132.2L521.6 132.2L522.1 132.2L522.6 132.2L523.1 132.2L523.6 132.2L524.1 132.2L524.6 132.2L525.1 132.2L525.6 132.2L526.1 132.2L526.6 132.2L527.1 132.2L527.6 132.2L528.1 132.2L528.6 132.2L529.1 132.2L529.6 132.2L530.1 132.2L530.6 132.2L531.1 132.2L531.6 132.2L532.1 132.2L532.6 132.2L533.1 132.2L533.6 132.2L534.1 132.2L534.6 132.2L535.1 132.2L535.6 132.2L536.1 132.2L536.6 132.2L537.1 132.2L537.6 132.2L538.1 132.2L538.6 132.2L539.1 132.2L539.6 132.2L540.1 132.2L540.6 132.2L541.1 132.2L541.6 132.2L542.1 132.2L542.6 132.2L543.1 132.2L543.6 132.2L544.1 132.2L544.6 132.2L545.1 132.2L545.6 132.2L546.1 132.2L546.6 132.2L547.1 132.2L547.6 132.2L548.1 132.2L548.6 132.2L549.1 132.13L549.6 131.95L550.1 131.75L550.6 131.6L551.1 131.51L551.6 131.42L552.1 131.35L552.6 131.29L553.1 131.23L553.6 131.17L554.1 131.12L554.6 131.05L555.1 130.99L555.6 130.91L556.1 130.82L556.6 130.72L557.1 130.6L557.6 130.46L558.1 130.32L558.6 130.16L559.1 129.99L559.6 129.82L560.1 129.63L560.6 129.44L561.1 129.24L561.6 129.04L562.1 128.81L562.6 128.56L563.1 128.27L563.6 127.93L564.1 127.47L564.6 126.89L565.1 126.24L565.6 125.55L566.1 124.86L566.6 124.2L567.1 123.5L567.6 122.77L568.1 122.05L568.6 121.35L569.1 120.7L569.6 120.06L570.1 119.4L570.6 118.77L571.1 118.21L571.6 117.78L572.1 117.5L572.6 117.27L573.1 117.06L573.6 116.91L574.1 116.82L574.6 116.81L575.1 116.91L575.6 117.09L576.1 117.35L576.6 117.65L577.1 117.97L577.6 118.44L578.1 119.08L578.6 119.84L579.1 120.65L579.6 121.48L580.1 122.3L580.6 123.21L581.1 124.17L581.6 125.14L582.1 126.07L582.6 126.9L583.1 127.67L583.6 128.44L584.1 129.16L584.6 129.81L585.1 130.34L585.6 130.75L586.1 131.13L586.6 131.49L587.1 131.79L587.6 132L588.1 132.1L588.6 132.09L589.1 132.04L589.6 131.96L590.1 131.86L590.6 131.75L591.1 131.63L591.6 131.51L592.1 131.4L592.6 131.29L593.1 131.16L593.6 131.03L594.1 130.89L594.6 130.75L595.1 130.61L595.6 130.47L596.1 130.33L596.6 130.2L597.1 130.09L597.6 129.99L598.1 129.9L598.6 129.8L599.1 129.68L599.6 129.54L600.1 129.36L600.6 129.02L601.1 128.55L601.6 128.02L602.1 127.5L602.6 127.05L603.1 126.63L603.6 126.21L604.1 125.73L604.6 125.16L605.1 124.44L605.6 123.51L606.1 122.38L606.6 121.08L607.1 119.62L607.6 118.04L608.1 116.35L608.6 114.56L609.1 112.43L609.6 109.99L610.1 107.31L610.6 104.46L611.1 101.46L611.6 98.09L612.1 94.47L612.6 90.76L613.1 87.11L613.6 83.39L614.1 79.45L614.6 75.98L615.1 73.53L615.6 71.46L616.1 69.74L616.6 68.63L617.1 68.18L617.6 67.88L618.1 67.67L618.6 67.6L619.1 67.95L619.6 68.85L620.1 70.04L620.6 71.35L621.1 73.15L621.6 75.4L622.1 77.93L622.6 80.56L623.1 83.19L623.6 86.04L624.1 89.07L624.6 92.23L625.1 95.45L625.6 98.82L626.1 102.47L626.6 106.17L627.1 109.73L627.6 112.9L628.1 115.55L628.6 117.91L629.1 120.35L629.6 123.35L630.1 127.18L630.6 129.29L631.1 130.57L631.6 131.47L632.1 131.8L632.6 131.77L633.1 131.68L633.6 131.55L634.1 131.4L634.6 131.24L635.1 131.1L635.6 130.98L636.1 130.9L636.6 130.85L637.1 130.8L637.6 130.76L638.1 130.73L638.6 130.71L639.1 130.7L639.6 130.7L640.1 130.72L640.6 130.73L641.1 130.76L641.6 130.79L642.1 130.82L642.6 130.85L643.1 130.89L643.6 130.92L644.1 130.96L644.6 130.99L645.1 131.03L645.6 131.05L646.1 131.08L646.6 131.09L647.1 131.11L647.6 131.12L648.1 131.13L648.6 131.14L649.1 131.15L649.6 131.16L650.1 131.17L650.6 131.18L651.1 131.19L651.6 131.19L652.1 131.2L652.6 131.21L653.1 131.22L653.6 131.22L654.1 131.23L654.6 131.24L655.1 131.24L655.6 131.25L656.1 131.26L656.6 131.26L657.1 131.27L657.6 131.27L658.1 131.28L658.6 131.28L659.1 131.29L659.6 131.29L660.1 131.3L660.6 131.3L661.1 131.31L661.6 131.31L662.1 131.32L662.6 131.32L663.1 131.33L663.6 131.34L664.1 131.34L664.6 131.35L665.1 131.35L665.6 131.36L666.1 131.37L666.6 131.37L667.1 131.38L667.6 131.39L668.1 131.39L668.6 131.4L669.1 131.41L669.6 131.42L670.1 131.43L670.6 131.43L671.1 131.44L671.6 131.45L672.1 131.46L672.6 131.47L673.1 131.47L673.6 131.48L674.1 131.49L674.6 131.5L675.1 131.51L675.6 131.52L676.1 131.52L676.6 131.53L677.1 131.54L677.6 131.55L678.1 131.56L678.6 131.57L679.1 131.58L679.6 131.58L680.1 131.59L680.6 131.6L681.1 131.61L681.6 131.62L682.1 131.63L682.6 131.64L683.1 131.65L683.6 131.66L684.1 131.67L684.6 131.67L685.1 131.68L685.6 131.69L686.1 131.7L686.6 131.71L687.1 131.72L687.6 131.73L688.1 131.74L688.6 131.75L689.1 131.76L689.6 131.77L690.1 131.78L690.6 131.79L691.1 131.8L691.6 131.81L692.1 131.82L692.6 131.83L693.1 131.84L693.6 131.85L694.1 131.86L694.6 131.87L695.1 131.88L695.6 131.89L696.1 131.9L696.6 131.91L697.1 131.92L697.6 131.93L698.1 131.94L698.6 131.95L699.1 131.96L699.6 131.97L700.1 131.98L700.6 131.99" fill="none" stroke="#33f233" stroke-width="1.45" stroke-linejoin="round"/>
<path d="M485.1 72.6L485.6 72.6L486.1 72.6L486.6 72.6L487.1 72.6L487.6 72.6L488.1 72.6L488.6 72.6L489.1 72.6L489.6 72.6L490.1 72.6L490.6 72.6L491.1 72.6L491.6 72.6L492.1 72.6L492.6 72.6L493.1 72.6L493.6 72.6L494.1 72.6L494.6 72.6L495.1 72.6L495.6 72.6L496.1 72.6L496.6 72.6L497.1 72.6L497.6 72.6L498.1 72.6L498.6 72.6L499.1 72.6L499.6 72.6L500.1 72.6L500.6 72.6L501.1 72.6L501.6 72.6L502.1 72.6L502.6 72.6L503.1 72.6L503.6 72.59L504.1 72.59L504.6 72.59L505.1 72.59L505.6 72.59L506.1 72.59L506.6 72.58L507.1 72.58L507.6 72.58L508.1 72.58L508.6 72.57L509.1 72.57L509.6 72.57L510.1 72.57L510.6 72.56L511.1 72.56L511.6 72.56L512.1 72.55L512.6 72.55L513.1 72.55L513.6 72.54L514.1 72.54L514.6 72.54L515.1 72.53L515.6 72.53L516.1 72.53L516.6 72.52L517.1 72.52L517.6 72.52L518.1 72.51L518.6 72.51L519.1 72.51L519.6 72.5L520.1 72.5L520.6 72.5L521.1 72.49L521.6 72.49L522.1 72.49L522.6 72.48L523.1 72.48L523.6 72.48L524.1 72.47L524.6 72.47L525.1 72.47L525.6 72.46L526.1 72.46L526.6 72.46L527.1 72.45L527.6 72.45L528.1 72.45L528.6 72.44L529.1 72.44L529.6 72.44L530.1 72.43L530.6 72.43L531.1 72.42L531.6 72.42L532.1 72.41L532.6 72.41L533.1 72.4L533.6 72.4L534.1 72.39L534.6 72.38L535.1 72.38L535.6 72.37L536.1 72.36L536.6 72.36L537.1 72.35L537.6 72.34L538.1 72.33L538.6 72.33L539.1 72.32L539.6 72.31L540.1 72.3L540.6 72.29L541.1 72.27L541.6 72.25L542.1 72.22L542.6 72.2L543.1 72.17L543.6 72.13L544.1 72.1L544.6 72.06L545.1 72.03L545.6 71.99L546.1 71.95L546.6 71.91L547.1 71.87L547.6 71.83L548.1 71.78L548.6 71.74L549.1 71.69L549.6 71.63L550.1 71.57L550.6 71.5L551.1 71.42L551.6 71.32L552.1 71.2L552.6 71.05L553.1 70.88L553.6 70.67L554.1 70.45L554.6 70.2L555.1 69.87L555.6 69.43L556.1 68.91L556.6 68.35L557.1 67.77L557.6 67.21L558.1 66.7L558.6 66.19L559.1 65.67L559.6 65.15L560.1 64.64L560.6 64.15L561.1 63.68L561.6 63.23L562.1 62.78L562.6 62.34L563.1 61.93L563.6 61.57L564.1 61.3L564.6 61.07L565.1 60.86L565.6 60.67L566.1 60.55L566.6 60.5L567.1 60.54L567.6 60.65L568.1 60.82L568.6 61.03L569.1 61.25L569.6 61.53L570.1 61.93L570.6 62.42L571.1 62.98L571.6 63.57L572.1 64.15L572.6 64.71L573.1 65.29L573.6 65.92L574.1 66.56L574.6 67.19L575.1 67.78L575.6 68.32L576.1 68.78L576.6 69.22L577.1 69.65L577.6 70.06L578.1 70.42L578.6 70.72L579.1 70.94L579.6 71.08L580.1 71.21L580.6 71.32L581.1 71.42L581.6 71.51L582.1 71.6L582.6 71.67L583.1 71.73L583.6 71.79L584.1 71.84L584.6 71.88L585.1 71.91L585.6 71.95L586.1 71.98L586.6 72L587.1 72.03L587.6 72.06L588.1 72.08L588.6 72.1L589.1 72.12L589.6 72.14L590.1 72.15L590.6 72.17L591.1 72.18L591.6 72.19L592.1 72.2L592.6 72.21L593.1 72.22L593.6 72.23L594.1 72.24L594.6 72.25L595.1 72.26L595.6 72.26L596.1 72.27L596.6 72.28L597.1 72.28L597.6 72.29L598.1 72.29L598.6 72.3L599.1 72.3L599.6 72.3L600.1 72.3L600.6 72.3L601.1 72.3L601.6 72.29L602.1 72.29L602.6 72.28L603.1 72.27L603.6 72.26L604.1 72.24L604.6 72.23L605.1 72.21L605.6 72.19L606.1 72.16L606.6 72.14L607.1 72.11L607.6 72.08L608.1 72.05L608.6 72.01L609.1 71.96L609.6 71.79L610.1 71.51L610.6 71.15L611.1 70.7L611.6 70.19L612.1 69.63L612.6 68.98L613.1 68.03L613.6 66.79L614.1 65.33L614.6 63.7L615.1 61.93L615.6 59.64L616.1 56.91L616.6 54.06L617.1 51.2L617.6 48.16L618.1 45.15L618.6 42.37L619.1 39.75L619.6 37.26L620.1 34.96L620.6 32.8L621.1 30.62L621.6 28.8L622.1 27.76L622.6 27.1L623.1 26.52L623.6 26.06L624.1 25.72L624.6 25.53L625.1 25.52L625.6 25.77L626.1 26.24L626.6 26.87L627.1 27.6L627.6 28.47L628.1 29.8L628.6 31.45L629.1 33.2L629.6 35.1L630.1 37.23L630.6 39.43L631.1 41.58L631.6 43.74L632.1 45.93L632.6 48.2L633.1 50.59L633.6 53.06L634.1 55.54L634.6 57.98L635.1 60.51L635.6 62.93L636.1 65L636.6 66.81L637.1 68.47L637.6 69.73L638.1 70.42L638.6 70.93L639.1 71.37L639.6 71.75L640.1 72.05L640.6 72.26L641.1 72.38L641.6 72.4L642.1 72.4L642.6 72.4L643.1 72.4L643.6 72.4L644.1 72.4L644.6 72.4L645.1 72.4L645.6 72.4L646.1 72.4L646.6 72.4L647.1 72.4L647.6 72.4L648.1 72.4L648.6 72.4L649.1 72.4L649.6 72.4L650.1 72.4L650.6 72.4L651.1 72.4L651.6 72.4L652.1 72.4L652.6 72.4L653.1 72.4L653.6 72.4L654.1 72.4L654.6 72.4L655.1 72.4L655.6 72.4L656.1 72.4L656.6 72.4L657.1 72.4L657.6 72.4L658.1 72.4L658.6 72.4L659.1 72.4L659.6 72.4L660.1 72.4L660.6 72.4L661.1 72.4L661.6 72.4L662.1 72.4L662.6 72.4L663.1 72.4L663.6 72.4L664.1 72.4L664.6 72.4L665.1 72.4L665.6 72.4L666.1 72.4L666.6 72.4L667.1 72.4L667.6 72.4L668.1 72.4L668.6 72.4L669.1 72.4L669.6 72.4L670.1 72.4L670.6 72.4L671.1 72.4L671.6 72.4L672.1 72.4L672.6 72.4L673.1 72.4L673.6 72.4L674.1 72.4L674.6 72.4L675.1 72.4L675.6 72.4L676.1 72.4L676.6 72.4L677.1 72.4L677.6 72.4L678.1 72.4L678.6 72.4L679.1 72.4L679.6 72.4L680.1 72.4L680.6 72.4L681.1 72.4L681.6 72.4L682.1 72.4L682.6 72.4L683.1 72.4L683.6 72.4L684.1 72.4L684.6 72.4L685.1 72.4L685.6 72.4L686.1 72.4L686.6 72.4L687.1 72.4L687.6 72.4L688.1 72.4L688.6 72.4L689.1 72.4L689.6 72.4L690.1 72.4L690.6 72.4L691.1 72.4L691.6 72.4L692.1 72.4L692.6 72.4L693.1 72.4L693.6 72.4L694.1 72.4L694.6 72.4L695.1 72.4L695.6 72.4L696.1 72.4L696.6 72.4L697.1 72.4L697.6 72.4L698.1 72.4L698.6 72.4L699.1 72.4L699.6 72.4L700.1 72.4L700.6 72.4" fill="none" stroke="#932a2a" stroke-width="1.45" stroke-linejoin="round"/>
<rect x="485.1" y="2.0" width="215.7" height="273.5" fill="none" stroke="#333" stroke-width="1.2"/>
<line x1="485.1" y1="275.5" x2="485.1" y2="280.3" stroke="#333" stroke-width="1.2"/>
<line x1="521.05" y1="275.5" x2="521.05" y2="278.5" stroke="#333" stroke-width="1.2"/>
<line x1="557" y1="275.5" x2="557" y2="280.3" stroke="#333" stroke-width="1.2"/>
<line x1="592.95" y1="275.5" x2="592.95" y2="278.5" stroke="#333" stroke-width="1.2"/>
<line x1="628.9" y1="275.5" x2="628.9" y2="280.3" stroke="#333" stroke-width="1.2"/>
<line x1="664.85" y1="275.5" x2="664.85" y2="278.5" stroke="#333" stroke-width="1.2"/>
<line x1="700.8" y1="275.5" x2="700.8" y2="280.3" stroke="#333" stroke-width="1.2"/>
<path d="M565.2 47.3 L567.5 53.6 L565.7 53.0 L563.9 53.6 Z" fill="#111"/>
<path d="M626.3 13.6 L628.3 20.8 L626.3 20.1 L624.3 20.8 Z" fill="#111"/>
<text x="1.13" y="21.20" font-family="Liberation Serif" font-weight="bold" font-size="26" fill="#111" stroke="#111" stroke-width="0.2" letter-spacing="0.09">(a)</text>
<text x="433.63" y="21.25" font-family="Liberation Serif" font-weight="bold" font-size="26" fill="#111" stroke="#111" stroke-width="0.2" letter-spacing="0.19">(b)</text>
<text x="58.8" y="292.7" font-family="Liberation Sans" font-size="11" fill="#333" stroke="#333" stroke-width="0.2" font-weight="normal" text-anchor="middle" >20</text>
<text x="117.28" y="292.7" font-family="Liberation Sans" font-size="11" fill="#333" stroke="#333" stroke-width="0.2" font-weight="normal" text-anchor="middle" >30</text>
<text x="175.76" y="292.7" font-family="Liberation Sans" font-size="11" fill="#333" stroke="#333" stroke-width="0.2" font-weight="normal" text-anchor="middle" >40</text>
<text x="234.24" y="292.7" font-family="Liberation Sans" font-size="11" fill="#333" stroke="#333" stroke-width="0.2" font-weight="normal" text-anchor="middle" >50</text>
<text x="292.72" y="292.7" font-family="Liberation Sans" font-size="11" fill="#333" stroke="#333" stroke-width="0.2" font-weight="normal" text-anchor="middle" >60</text>
<text x="351.2" y="292.7" font-family="Liberation Sans" font-size="11" fill="#333" stroke="#333" stroke-width="0.2" font-weight="normal" text-anchor="middle" >70</text>
<text x="409.68" y="292.7" font-family="Liberation Sans" font-size="11" fill="#333" stroke="#333" stroke-width="0.2" font-weight="normal" text-anchor="middle" >80</text>
<text x="485.1" y="292.6" font-family="Liberation Sans" font-size="11" fill="#333" stroke="#333" stroke-width="0.2" font-weight="normal" text-anchor="middle" >25</text>
<text x="557" y="292.6" font-family="Liberation Sans" font-size="11" fill="#333" stroke="#333" stroke-width="0.2" font-weight="normal" text-anchor="middle" >26</text>
<text x="628.9" y="292.6" font-family="Liberation Sans" font-size="11" fill="#333" stroke="#333" stroke-width="0.2" font-weight="normal" text-anchor="middle" >27</text>
<text x="700.8" y="292.6" font-family="Liberation Sans" font-size="11" fill="#333" stroke="#333" stroke-width="0.2" font-weight="normal" text-anchor="middle" >28</text>
<text x="204.68" y="307.30" font-family="Liberation Sans" font-weight="bold" font-size="12" fill="#222" stroke="#222" stroke-width="0.3">2</text>
<text x="211.71" y="307.30" font-family="Liberation Serif" font-weight="normal" font-size="12.5" fill="#333" stroke="#333" stroke-width="0.12">θ</text>
<text x="223.20" y="307.30" font-family="Liberation Sans" font-weight="bold" font-size="12" fill="#222" stroke="#222" stroke-width="0.3" letter-spacing="0.55">(deg.)</text>
<text x="571.98" y="306.00" font-family="Liberation Sans" font-weight="bold" font-size="12" fill="#222" stroke="#222" stroke-width="0.3">2</text>
<text x="579.21" y="306.00" font-family="Liberation Serif" font-weight="normal" font-size="12.5" fill="#333" stroke="#333" stroke-width="0.12">θ</text>
<text x="591.00" y="306.00" font-family="Liberation Sans" font-weight="bold" font-size="12" fill="#222" stroke="#222" stroke-width="0.3" letter-spacing="0.55">(deg.)</text>
<text transform="translate(22.90,188.21) rotate(-90)" font-family="Liberation Sans" font-weight="bold" font-size="12" fill="#222" stroke="#222" stroke-width="0.3" letter-spacing="0.44">Intensity (a.u.)</text>
<text transform="translate(451.50,174.11) rotate(-90)" font-family="Liberation Sans" font-weight="bold" font-size="12" fill="#222" stroke="#222" stroke-width="0.3" letter-spacing="0.44">Intensity (a.u.)</text>
<path d="M98.55 13.8 L101.25 17 L98.55 20.2 L95.85 17 Z" fill="#111"/>
<text x="106.26" y="20.70" font-family="Liberation Serif" font-weight="normal" font-size="12" fill="#222" stroke="#222" stroke-width="0.12" letter-spacing="0.11">(−112)</text>
<text x="187.46" y="76.80" font-family="Liberation Serif" font-weight="normal" font-size="12" fill="#222" stroke="#222" stroke-width="0.12" letter-spacing="0.54">(-402)</text>
<path d="M203.7 87 L206.1 90 L203.7 93 L201.3 90 Z" fill="#111"/>
<path d="M345.2 31.4 L347.9 34.6 L345.2 37.8 L342.5 34.6 Z" fill="#111"/>
<text x="352.80" y="37.60" font-family="Liberation Sans" font-weight="normal" font-size="13" fill="#222" stroke="#222" stroke-width="0.3" letter-spacing="0.27">I2/c</text>
<text x="378.62" y="37.60" font-family="Liberation Sans" font-weight="normal" font-size="13" fill="#222" stroke="#222" stroke-width="0.3" letter-spacing="-0.44">SiO</text>
<text x="399.60" y="42.70" font-family="Liberation Sans" font-weight="normal" font-size="8" fill="#222" stroke="#222" stroke-width="0.3">2</text>
<text x="354.43" y="103.80" font-family="Liberation Sans" font-weight="normal" font-size="12" fill="#9a3030" stroke="#9a3030" stroke-width="0.15" letter-spacing="-0.10">YPO</text>
<text x="379.54" y="108.20" font-family="Liberation Sans" font-weight="normal" font-size="11.5" fill="#9a3030" stroke="#9a3030" stroke-width="0.15">4</text>
<text x="353.71" y="132.10" font-family="Liberation Sans" font-weight="normal" font-size="12" fill="#33f033" stroke="#33f033" stroke-width="0.15" letter-spacing="0.27">ErPO</text>
<text x="383.34" y="135.30" font-family="Liberation Sans" font-weight="normal" font-size="11.5" fill="#33f033" stroke="#33f033" stroke-width="0.15">4</text>
<text x="352.33" y="175.20" font-family="Liberation Sans" font-weight="normal" font-size="12" fill="#fa2a2a" stroke="#fa2a2a" stroke-width="0.15" letter-spacing="-0.06">YbPO</text>
<text x="384.04" y="180.10" font-family="Liberation Sans" font-weight="normal" font-size="11.5" fill="#fa2a2a" stroke="#fa2a2a" stroke-width="0.15">4</text>
<text x="351.91" y="204.80" font-family="Liberation Sans" font-weight="normal" font-size="12" fill="#2a2afa" stroke="#2a2afa" stroke-width="0.15" letter-spacing="0.06">LuPO</text>
<text x="382.64" y="209.30" font-family="Liberation Sans" font-weight="normal" font-size="11.5" fill="#2a2afa" stroke="#2a2afa" stroke-width="0.15">4</text>
<text x="353.06" y="237.40" font-family="Liberation Sans" font-weight="normal" font-size="12" fill="#f52af5" stroke="#f52af5" stroke-width="0.15" letter-spacing="-0.08">ScPO</text>
<text x="384.04" y="242.70" font-family="Liberation Sans" font-weight="normal" font-size="11.5" fill="#f52af5" stroke="#f52af5" stroke-width="0.15">4</text>
<text x="656.33" y="62.00" font-family="Liberation Sans" font-weight="normal" font-size="12" fill="#9a3030" stroke="#9a3030" stroke-width="0.15" letter-spacing="0.24">YPO</text>
<text x="681.74" y="66.80" font-family="Liberation Sans" font-weight="normal" font-size="11.5" fill="#9a3030" stroke="#9a3030" stroke-width="0.15">4</text>
<text x="654.61" y="123.40" font-family="Liberation Sans" font-weight="normal" font-size="12" fill="#33f033" stroke="#33f033" stroke-width="0.15" letter-spacing="0.21">ErPO</text>
<text x="684.34" y="128.30" font-family="Liberation Sans" font-weight="normal" font-size="11.5" fill="#33f033" stroke="#33f033" stroke-width="0.15">4</text>
<text x="656.43" y="170.40" font-family="Liberation Sans" font-weight="normal" font-size="12" fill="#fa2a2a" stroke="#fa2a2a" stroke-width="0.15" letter-spacing="-0.02">YbPO</text>
<text x="688.24" y="175.50" font-family="Liberation Sans" font-weight="normal" font-size="11.5" fill="#fa2a2a" stroke="#fa2a2a" stroke-width="0.15">4</text>
<text x="656.11" y="206.80" font-family="Liberation Sans" font-weight="normal" font-size="12" fill="#2a2afa" stroke="#2a2afa" stroke-width="0.15" letter-spacing="-0.08">LuPO</text>
<text x="686.74" y="211.50" font-family="Liberation Sans" font-weight="normal" font-size="11.5" fill="#2a2afa" stroke="#2a2afa" stroke-width="0.15">4</text>
<text x="656.16" y="256.80" font-family="Liberation Sans" font-weight="normal" font-size="12" fill="#f52af5" stroke="#f52af5" stroke-width="0.15" letter-spacing="0.02">ScPO</text>
<text x="687.84" y="261.90" font-family="Liberation Sans" font-weight="normal" font-size="11.5" fill="#f52af5" stroke="#f52af5" stroke-width="0.15">4</text>
<text x="546.25" y="41.10" font-family="Liberation Sans" font-weight="normal" font-size="12" fill="#222" stroke="#222" stroke-width="0.3" letter-spacing="0.67">(200)</text>
<text x="634.15" y="19.80" font-family="Liberation Sans" font-weight="normal" font-size="12" fill="#222" stroke="#222" stroke-width="0.3" letter-spacing="-0.59">(-</text>
<path transform="translate(642.30,19.80) scale(0.005859,-0.005859)" d="M515 0L515 1237L197 1010L197 1180L530 1409L696 1409L696 0Z" fill="#222" stroke="#222" stroke-width="85.3"/>
<path transform="translate(649.40,19.80) scale(0.005859,-0.005859)" d="M515 0L515 1237L197 1010L197 1180L530 1409L696 1409L696 0Z" fill="#222" stroke="#222" stroke-width="85.3"/>
<text x="656.10" y="19.80" font-family="Liberation Sans" font-weight="normal" font-size="12" fill="#222" stroke="#222" stroke-width="0.3" letter-spacing="1.60">2)</text>
</svg>
</body></html>
